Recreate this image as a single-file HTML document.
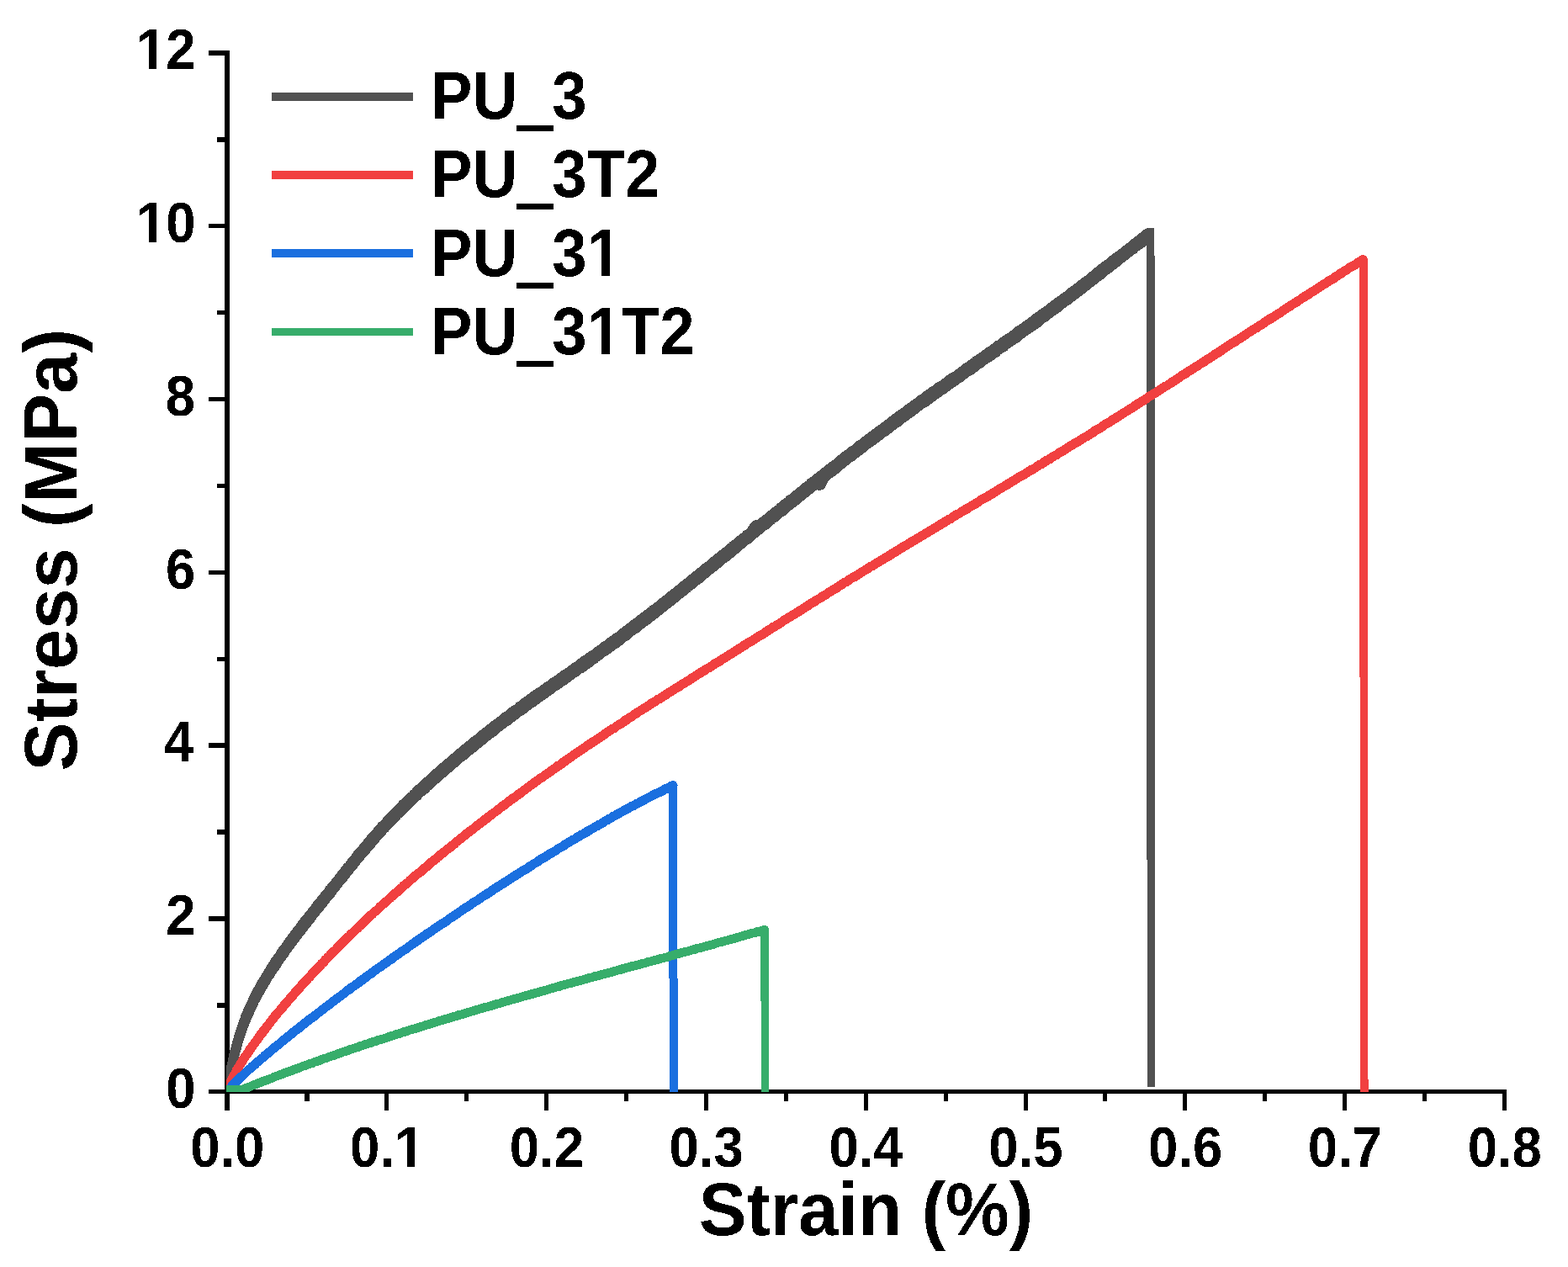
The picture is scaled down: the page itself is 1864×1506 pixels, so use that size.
<!DOCTYPE html>
<html lang="en"><head><meta charset="utf-8"><title>Stress-strain curves</title>
<style>html,body{margin:0;padding:0;background:#fff}body{width:1864px;height:1506px;overflow:hidden}svg{display:block}text{font-family:"Liberation Sans", sans-serif;font-weight:bold;fill:#000;font-kerning:none}</style>
</head><body>
<svg width="1864" height="1506" viewBox="0 0 1864 1506" role="img" aria-label="Stress-strain curves of PU_3, PU_3T2, PU_31 and PU_31T2">
<rect width="1864" height="1506" fill="#fff"/>
<g fill="#000" shape-rendering="crispEdges">
<rect x="267" y="60" width="6" height="1260"/>
<rect x="248" y="1295" width="1543" height="5"/>
<rect x="258" y="1192" width="10" height="6"/>
<rect x="248" y="1089" width="20" height="6"/>
<rect x="258" y="986" width="10" height="6"/>
<rect x="248" y="883" width="20" height="6"/>
<rect x="258" y="781" width="10" height="5"/>
<rect x="248" y="678" width="20" height="5"/>
<rect x="258" y="575" width="10" height="5"/>
<rect x="248" y="472" width="20" height="5"/>
<rect x="258" y="369" width="10" height="5"/>
<rect x="248" y="266" width="20" height="5"/>
<rect x="258" y="163" width="10" height="6"/>
<rect x="248" y="60" width="20" height="6"/>
<rect x="362" y="1299" width="6" height="10"/>
<rect x="457" y="1299" width="5" height="21"/>
<rect x="552" y="1299" width="5" height="10"/>
<rect x="647" y="1299" width="5" height="21"/>
<rect x="742" y="1299" width="5" height="10"/>
<rect x="837" y="1299" width="5" height="21"/>
<rect x="932" y="1299" width="5" height="10"/>
<rect x="1027" y="1299" width="5" height="21"/>
<rect x="1122" y="1299" width="5" height="10"/>
<rect x="1217" y="1299" width="5" height="21"/>
<rect x="1311" y="1299" width="5" height="10"/>
<rect x="1406" y="1299" width="5" height="21"/>
<rect x="1501" y="1299" width="5" height="10"/>
<rect x="1596" y="1299" width="5" height="21"/>
<rect x="1691" y="1299" width="5" height="10"/>
<rect x="1786" y="1299" width="5" height="21"/>
</g>
<defs><filter id="crisp" x="0" y="0" width="100%" height="100%" filterUnits="userSpaceOnUse" color-interpolation-filters="sRGB"><feComponentTransfer><feFuncR type="discrete" tableValues="0 1"/><feFuncG type="discrete" tableValues="0 1"/><feFuncB type="discrete" tableValues="0 1"/><feFuncA type="discrete" tableValues="0 1"/></feComponentTransfer></filter></defs>
<defs><clipPath id="plot"><rect x="269" y="0" width="1531" height="1298"/></clipPath></defs>
<g clip-path="url(#plot)" fill="none" stroke-linejoin="round" stroke-linecap="butt">
<path d="M270.5 1286.3L270.9 1283.9L271.3 1282.3L271.7 1280.6L272.1 1278.4L272.5 1276.5L272.9 1274.0L273.3 1272.5L273.7 1271.0L274.2 1269.0L274.6 1266.9L275.0 1264.3L275.5 1263.2L275.9 1261.2L276.4 1258.5L276.8 1257.1L277.3 1254.5L277.8 1252.6L278.2 1250.9L278.7 1248.8L279.2 1247.5L279.7 1245.6L280.2 1243.2L280.8 1241.2L281.3 1239.1L281.8 1237.1L282.4 1235.8L282.9 1233.8L283.5 1231.3L284.1 1229.8L284.7 1227.8L285.3 1226.3L285.9 1224.3L286.5 1222.3L287.1 1220.3L287.8 1218.8L288.4 1217.0L289.1 1214.5L289.8 1212.5L290.5 1211.2L291.2 1208.6L292.0 1207.0L292.7 1204.8L293.5 1203.2L294.3 1201.1L295.0 1199.5L295.8 1198.2L296.7 1196.5L297.5 1194.5L298.3 1192.5L299.2 1190.7L300.1 1188.7L300.9 1186.7L301.8 1185.1L302.7 1183.6L303.6 1181.2L304.6 1179.4L305.5 1178.3L306.4 1176.1L307.4 1174.7L308.3 1173.0L309.3 1171.5L310.3 1169.2L311.3 1167.4L312.3 1166.1L313.3 1164.3L314.3 1162.5L315.3 1160.9L316.4 1159.1L317.4 1157.7L318.5 1155.3L319.5 1154.0L320.6 1152.6L321.7 1150.3L322.8 1148.8L323.9 1146.9L325.0 1145.3L326.1 1143.3L327.2 1141.6L328.3 1140.6L329.4 1138.7L330.5 1137.2L331.7 1135.6L332.8 1133.7L333.9 1132.0L335.1 1130.1L336.2 1129.1L337.4 1127.5L338.6 1125.8L339.7 1124.3L340.9 1122.5L342.1 1120.9L343.3 1118.8L344.5 1117.7L345.6 1115.7L346.8 1114.2L348.0 1112.4L349.2 1111.1L350.4 1109.6L351.6 1107.9L352.9 1106.0L354.1 1104.3L355.3 1103.4L356.5 1101.2L357.7 1099.8L358.9 1097.9L360.2 1096.5L361.4 1094.7L362.6 1093.4L363.8 1092.1L365.1 1090.8L366.3 1088.9L367.5 1087.0L368.8 1085.8L370.0 1084.2L371.3 1082.8L372.5 1080.9L373.8 1079.7L375.0 1077.7L376.2 1076.0L377.5 1074.6L378.7 1073.5L380.0 1071.7L381.2 1069.9L382.5 1068.3L383.7 1066.9L385.0 1065.2L386.2 1063.7L387.5 1062.6L388.7 1061.0L390.0 1059.3L391.2 1057.0L392.5 1055.9L393.8 1054.1L395.0 1053.1L396.3 1051.0L397.5 1050.0L398.8 1047.8L400.0 1046.4L401.3 1045.4L402.5 1043.4L403.8 1042.2L405.0 1040.3L406.3 1038.4L407.6 1037.3L408.8 1035.5L410.1 1034.0L411.3 1032.0L412.6 1030.5L413.8 1029.7L415.1 1028.2L416.3 1026.6L417.6 1024.4L418.8 1022.6L420.1 1021.5L421.4 1020.1L422.6 1018.5L423.9 1016.3L425.1 1015.0L426.4 1013.9L427.7 1011.7L429.0 1010.9L430.2 1009.5L431.5 1007.2L432.8 1005.5L434.1 1004.9L435.3 1003.1L436.6 1001.3L437.9 999.8L439.2 998.7L440.5 996.6L441.8 994.8L443.1 993.8L444.4 992.0L445.8 990.9L447.1 989.6L448.4 987.5L449.7 985.9L451.1 984.2L452.4 983.5L453.7 981.3L455.1 980.7L456.4 978.9L457.8 977.7L459.2 976.1L460.5 974.0L461.9 972.6L463.3 971.9L464.7 969.8L466.1 968.9L467.5 966.8L468.9 965.5L470.3 964.4L471.7 962.6L473.1 961.7L474.6 960.4L476.0 958.4L477.4 957.0L478.8 955.3L480.3 954.3L481.7 952.6L483.1 951.7L484.6 950.4L486.0 948.9L487.5 947.5L488.9 946.2L490.4 945.1L491.8 943.3L493.3 942.3L494.7 940.4L496.2 938.8L497.7 937.5L499.1 936.7L500.6 934.8L502.1 934.0L503.6 932.8L505.0 931.1L506.5 929.3L508.0 928.4L509.5 926.8L511.0 926.0L512.4 924.0L513.9 922.7L515.4 921.6L516.9 920.3L518.4 918.6L519.9 917.5L521.4 916.4L522.9 914.9L524.4 913.2L525.9 912.2L527.4 910.9L529.0 909.6L530.5 907.9L532.0 906.8L533.5 906.2L535.0 904.8L536.5 903.6L538.1 902.1L539.6 900.5L541.1 899.7L542.7 897.8L544.2 896.8L545.7 895.5L547.3 894.0L548.8 892.6L550.3 891.4L551.9 890.4L553.4 888.8L555.0 887.6L556.5 886.3L558.1 885.0L559.6 884.2L561.2 882.7L562.7 880.9L564.3 880.4L565.9 878.9L567.4 877.9L569.0 876.4L570.6 874.9L572.1 874.2L573.7 872.3L575.3 871.2L576.8 870.1L578.4 869.3L580.0 867.3L581.6 866.3L583.2 865.2L584.7 864.1L586.3 862.3L587.9 861.8L589.5 860.4L591.1 859.1L592.7 857.7L594.3 856.5L595.9 855.8L597.5 854.7L599.1 852.7L600.7 851.5L602.3 850.8L603.9 849.7L605.5 848.5L607.1 846.8L608.7 845.5L610.3 844.2L611.9 843.3L613.5 842.3L615.1 841.4L616.8 839.4L618.4 838.3L620.0 837.7L621.6 836.5L623.2 834.8L624.9 833.6L626.5 832.3L628.1 831.8L629.7 830.2L631.4 829.0L633.0 828.3L634.6 826.6L636.3 825.9L637.9 824.2L639.5 823.1L641.2 822.5L642.8 821.5L644.4 820.0L646.1 818.8L647.7 817.9L649.4 816.1L651.0 815.2L652.6 814.7L654.3 813.6L655.9 811.5L657.6 810.3L659.2 809.9L660.8 808.5L662.5 807.6L664.1 806.4L665.8 805.0L667.4 804.1L669.1 802.9L670.7 801.2L672.3 800.5L674.0 799.7L675.6 798.5L677.3 797.2L678.9 796.0L680.6 795.1L682.2 793.4L683.8 792.3L685.5 791.4L687.1 790.5L688.8 788.8L690.4 787.5L692.0 786.5L693.7 785.5L695.3 784.0L697.0 783.4L698.6 782.5L700.2 780.8L701.9 780.2L703.5 778.5L705.1 777.5L706.8 776.8L708.4 775.3L710.0 774.0L711.7 773.0L713.3 771.6L714.9 770.7L716.5 769.0L718.2 767.7L719.8 767.0L721.4 765.8L723.0 764.5L724.6 763.0L726.3 762.7L727.9 760.7L729.5 760.3L731.1 758.5L732.7 757.3L734.3 756.7L736.0 755.6L737.6 754.1L739.2 753.2L740.8 751.2L742.4 750.7L744.0 749.2L745.6 747.7L747.2 746.8L748.8 745.1L750.4 744.6L752.0 743.2L753.6 741.5L755.2 740.4L756.8 739.2L758.4 738.2L760.0 736.7L761.5 735.6L763.1 734.6L764.7 733.0L766.3 732.4L767.9 730.9L769.5 729.6L771.1 728.5L772.7 726.9L774.2 726.4L775.8 724.4L777.4 723.6L779.0 722.8L780.6 720.7L782.1 720.0L783.7 719.1L785.3 717.9L786.9 716.0L788.4 715.0L790.0 714.1L791.6 712.5L793.2 711.6L794.7 710.1L796.3 708.2L797.9 707.3L799.5 706.6L801.0 704.9L802.6 703.7L804.2 702.3L805.7 700.9L807.3 700.1L808.9 698.6L810.4 697.9L812.0 695.8L813.6 695.4L815.1 693.3L816.7 692.8L818.3 691.2L819.8 690.2L821.4 688.7L822.9 687.1L824.5 686.7L826.1 685.1L827.6 683.4L829.2 682.5L830.8 680.9L832.3 679.8L833.9 678.8L835.4 677.5L837.0 675.8L838.6 674.6L840.1 673.6L841.7 672.4L843.2 671.5L844.8 669.9L846.3 668.9L847.9 667.2L849.5 665.8L851.0 664.6L852.6 663.1L854.1 662.2L855.7 661.2L857.2 660.1L858.8 658.3L860.4 657.5L861.9 656.2L863.5 654.9L865.0 653.9L866.6 652.3L868.1 650.9L869.7 649.7L871.3 647.9L872.8 646.7L874.4 645.9L875.9 644.5L877.5 643.0L879.0 642.0L880.6 641.0L882.1 639.6L883.7 638.2L885.3 637.3L886.8 635.4L888.4 634.9L889.9 633.5L891.5 631.9L893.0 630.4L894.6 628.0L896.2 625.7L897.7 623.6L899.3 623.5L900.8 623.3L902.4 623.1L903.9 621.7L905.5 620.2L907.1 619.2L908.6 618.0L910.2 616.6L911.7 615.6L913.3 614.8L914.9 612.8L916.4 611.7L918.0 610.9L919.5 609.0L921.1 607.9L922.7 606.9L924.2 605.8L925.8 604.7L927.3 602.8L928.9 602.3L930.5 600.5L932.0 598.9L933.6 597.7L935.1 596.7L936.7 595.8L938.3 593.8L939.8 592.7L941.4 592.1L943.0 590.8L944.5 589.0L946.1 587.6L947.7 586.9L949.2 585.8L950.8 583.8L952.4 583.0L953.9 581.4L955.5 580.6L957.1 578.9L958.6 577.7L960.2 576.8L961.8 576.0L963.3 573.8L964.9 572.6L966.5 571.5L968.0 570.9L969.6 569.1L971.2 567.8L972.8 566.8L974.3 565.9L975.9 564.1L977.5 563.1L979.1 561.8L980.6 560.6L982.2 559.3L983.8 558.5L985.4 556.6L986.9 555.7L988.5 554.1L990.1 553.6L991.7 551.9L993.3 551.3L994.8 549.7L996.4 548.0L998.0 547.5L999.6 545.6L1001.2 544.7L1002.8 543.6L1004.3 541.8L1005.9 540.6L1007.5 539.6L1009.1 538.3L1010.7 537.1L1012.3 535.8L1013.9 534.7L1015.4 534.1L1017.0 532.3L1018.6 531.1L1020.2 529.7L1021.8 528.4L1023.4 527.3L1025.0 526.7L1026.6 525.5L1028.2 523.5L1029.8 522.6L1031.4 521.5L1033.0 520.3L1034.6 518.7L1036.2 517.4L1037.8 516.9L1039.4 515.0L1041.0 514.1L1042.6 513.3L1044.2 512.0L1045.8 510.5L1047.4 509.7L1049.0 508.7L1050.6 507.0L1052.2 506.2L1053.8 504.6L1055.4 503.3L1057.0 502.7L1058.6 501.3L1060.3 499.5L1061.9 498.7L1063.5 497.3L1065.1 496.3L1066.7 495.3L1068.3 493.7L1069.9 492.8L1071.6 491.3L1073.2 490.3L1074.8 489.5L1076.4 488.2L1078.0 486.7L1079.6 485.4L1081.3 484.5L1082.9 483.2L1084.5 482.6L1086.1 480.7L1087.8 480.2L1089.4 478.3L1091.0 477.7L1092.7 476.6L1094.3 474.8L1095.9 473.9L1097.5 473.0L1099.2 471.5L1100.8 470.0L1102.4 469.5L1104.1 468.1L1105.7 466.6L1107.3 465.3L1109.0 464.6L1110.6 463.3L1112.2 462.6L1113.9 460.8L1115.5 459.5L1117.1 459.2L1118.8 457.6L1120.4 456.9L1122.1 455.4L1123.7 454.6L1125.3 453.5L1127.0 451.5L1128.6 450.5L1130.3 449.3L1131.9 448.9L1133.5 447.5L1135.2 446.6L1136.8 445.5L1138.5 444.2L1140.1 443.1L1141.7 442.0L1143.4 440.5L1145.0 439.6L1146.7 438.6L1148.3 436.9L1149.9 435.5L1151.6 434.8L1153.2 433.1L1154.9 432.2L1156.5 431.1L1158.2 430.4L1159.8 428.4L1161.4 427.6L1163.1 426.4L1164.7 425.6L1166.4 424.7L1168.0 423.1L1169.6 422.4L1171.3 420.8L1172.9 419.7L1174.6 418.4L1176.2 417.1L1177.8 416.6L1179.5 415.2L1181.1 413.7L1182.8 412.8L1184.4 411.6L1186.0 410.0L1187.7 409.5L1189.3 408.5L1190.9 407.1L1192.6 405.5L1194.2 404.6L1195.8 403.3L1197.5 402.1L1199.1 401.0L1200.7 400.5L1202.4 399.3L1204.0 398.0L1205.6 397.0L1207.3 395.0L1208.9 394.0L1210.5 392.6L1212.2 391.4L1213.8 390.9L1215.4 389.5L1217.1 388.5L1218.7 387.6L1220.3 385.9L1221.9 384.7L1223.6 384.1L1225.2 382.1L1226.8 381.8L1228.4 380.1L1230.0 378.6L1231.7 377.6L1233.3 376.3L1234.9 375.8L1236.5 373.9L1238.1 372.7L1239.8 372.1L1241.4 370.5L1243.0 369.4L1244.6 368.7L1246.2 367.1L1247.8 366.3L1249.4 364.6L1251.1 363.3L1252.7 362.0L1254.3 361.6L1255.9 359.7L1257.5 358.4L1259.1 357.3L1260.7 356.5L1262.3 355.4L1263.9 354.0L1265.5 353.0L1267.1 351.6L1268.7 350.7L1270.3 349.3L1271.9 347.7L1273.5 346.6L1275.1 346.1L1276.7 344.3L1278.3 343.3L1279.9 341.6L1281.5 340.9L1283.0 339.7L1284.6 337.9L1286.2 337.5L1287.8 335.7L1289.4 334.5L1291.0 333.6L1292.6 332.6L1294.1 331.3L1295.7 329.8L1297.3 328.0L1298.9 327.2L1300.5 326.1L1302.0 325.1L1303.6 323.2L1305.2 322.3L1306.8 321.2L1308.3 320.0L1309.9 318.1L1311.5 317.7L1313.1 315.7L1314.7 315.2L1316.2 314.0L1317.8 312.5L1319.4 311.2L1321.0 309.8L1322.5 308.6L1324.1 307.9L1325.7 306.4L1327.3 305.0L1328.9 303.6L1330.4 303.0L1332.0 301.7L1333.6 300.5L1335.2 299.3L1336.8 297.5L1338.4 296.7L1339.9 295.4L1341.5 294.4L1343.1 293.0L1344.7 291.8L1346.3 290.6L1347.9 289.1L1349.5 288.0L1351.1 286.2L1352.7 285.3L1354.3 284.5L1355.9 282.6L1357.5 281.6L1359.1 280.7L1360.7 279.4L1362.3 277.8L1363.9 276.7L1365.5 275.8" stroke="#515151" stroke-width="7.800000000000001" stroke-linecap="round"/>
<path d="M270.5 1286.3L270.9 1283.9L271.3 1282.3L271.7 1280.6L272.1 1278.4L272.5 1276.5L272.9 1274.0L273.3 1272.5L273.7 1271.0L274.2 1269.0L274.6 1266.9L275.0 1264.3L275.5 1263.2L275.9 1261.2L276.4 1258.5L276.8 1257.1L277.3 1254.5L277.8 1252.6L278.2 1250.9L278.7 1248.8L279.2 1247.5L279.7 1245.6L280.2 1243.2L280.8 1241.2L281.3 1239.1L281.8 1237.1L282.4 1235.8L282.9 1233.8L283.5 1231.3L284.1 1229.8L284.7 1227.8L285.3 1226.3L285.9 1224.3L286.5 1222.3L287.1 1220.3L287.8 1218.8L288.4 1217.0L289.1 1214.5L289.8 1212.5L290.5 1211.2L291.2 1208.6L292.0 1207.0L292.7 1204.8L293.5 1203.2L294.3 1201.1L295.0 1199.5L295.8 1198.2L296.7 1196.5L297.5 1194.5L298.3 1192.5L299.2 1190.7L300.1 1188.7L300.9 1186.7L301.8 1185.1L302.7 1183.6L303.6 1181.2L304.6 1179.4L305.5 1178.3L306.4 1176.1L307.4 1174.7L308.3 1173.0L309.3 1171.5L310.3 1169.2L311.3 1167.4L312.3 1166.1L313.3 1164.3L314.3 1162.5L315.3 1160.9L316.4 1159.1L317.4 1157.7L318.5 1155.3L319.5 1154.0L320.6 1152.6L321.7 1150.3L322.8 1148.8L323.9 1146.9L325.0 1145.3L326.1 1143.3L327.2 1141.6L328.3 1140.6L329.4 1138.7L330.5 1137.2L331.7 1135.6L332.8 1133.7L333.9 1132.0L335.1 1130.1L336.2 1129.1L337.4 1127.5L338.6 1125.8L339.7 1124.3L340.9 1122.5L342.1 1120.9L343.3 1118.8L344.5 1117.7L345.6 1115.7L346.8 1114.2L348.0 1112.4L349.2 1111.1L350.4 1109.6L351.6 1107.9L352.9 1106.0L354.1 1104.3L355.3 1103.4L356.5 1101.2L357.7 1099.8L358.9 1097.9L360.2 1096.5L361.4 1094.7L362.6 1093.4L363.8 1092.1L365.1 1090.8L366.3 1088.9L367.5 1087.0L368.8 1085.8L370.0 1084.2L371.3 1082.8L372.5 1080.9L373.8 1079.7L375.0 1077.7L376.2 1076.0L377.5 1074.6L378.7 1073.5L380.0 1071.7L381.2 1069.9L382.5 1068.3L383.7 1066.9L385.0 1065.2L386.2 1063.7L387.5 1062.6L388.7 1061.0L390.0 1059.3L391.2 1057.0L392.5 1055.9L393.8 1054.1L395.0 1053.1L396.3 1051.0L397.5 1050.0L398.8 1047.8L400.0 1046.4L401.3 1045.4L402.5 1043.4L403.8 1042.2L405.0 1040.3L406.3 1038.4L407.6 1037.3L408.8 1035.5L410.1 1034.0L411.3 1032.0L412.6 1030.5L413.8 1029.7L415.1 1028.2L416.3 1026.6L417.6 1024.4L418.8 1022.6L420.1 1021.5L421.4 1020.1L422.6 1018.5L423.9 1016.3L425.1 1015.0L426.4 1013.9L427.7 1011.7L429.0 1010.9L430.2 1009.5L431.5 1007.2L432.8 1005.5L434.1 1004.9L435.3 1003.1L436.6 1001.3L437.9 999.8L439.2 998.7L440.5 996.6L441.8 994.8L443.1 993.8L444.4 992.0L445.8 990.9L447.1 989.6L448.4 987.5L449.7 985.9L451.1 984.2L452.4 983.5L453.7 981.3L455.1 980.7L456.4 978.9L457.8 977.7L459.2 976.1L460.5 974.0L461.9 972.6L463.3 971.9L464.7 969.8L466.1 968.9L467.5 966.8L468.9 965.5L470.3 964.4L471.7 962.6L473.1 961.7L474.6 960.4L476.0 958.4L477.4 957.0L478.8 955.3L480.3 954.3L481.7 952.6L483.1 951.7L484.6 950.4L486.0 948.9L487.5 947.5L488.9 946.2L490.4 945.1L491.8 943.3L493.3 942.3L494.7 940.4L496.2 938.8L497.7 937.5L499.1 936.7L500.6 934.8L502.1 934.0L503.6 932.8L505.0 931.1L506.5 929.3L508.0 928.4L509.5 926.8L511.0 926.0L512.4 924.0L513.9 922.7L515.4 921.6L516.9 920.3L518.4 918.6L519.9 917.5L521.4 916.4L522.9 914.9L524.4 913.2L525.9 912.2L527.4 910.9L529.0 909.6L530.5 907.9L532.0 906.8L533.5 906.2L535.0 904.8L536.5 903.6L538.1 902.1L539.6 900.5L541.1 899.7L542.7 897.8L544.2 896.8L545.7 895.5L547.3 894.0L548.8 892.6L550.3 891.4L551.9 890.4L553.4 888.8L555.0 887.6L556.5 886.3L558.1 885.0L559.6 884.2L561.2 882.7L562.7 880.9L564.3 880.4L565.9 878.9L567.4 877.9L569.0 876.4L570.6 874.9L572.1 874.2L573.7 872.3L575.3 871.2L576.8 870.1L578.4 869.3L580.0 867.3L581.6 866.3L583.2 865.2L584.7 864.1L586.3 862.3L587.9 861.8L589.5 860.4L591.1 859.1L592.7 857.7L594.3 856.5L595.9 855.8L597.5 854.7L599.1 852.7L600.7 851.5L602.3 850.8L603.9 849.7L605.5 848.5L607.1 846.8L608.7 845.5L610.3 844.2L611.9 843.3L613.5 842.3L615.1 841.4L616.8 839.4L618.4 838.3L620.0 837.7L621.6 836.5L623.2 834.8L624.9 833.6L626.5 832.3L628.1 831.8L629.7 830.2L631.4 829.0L633.0 828.3L634.6 826.6L636.3 825.9L637.9 824.2L639.5 823.1L641.2 822.5L642.8 821.5L644.4 820.0L646.1 818.8L647.7 817.9L649.4 816.1L651.0 815.2L652.6 814.7L654.3 813.6L655.9 811.5L657.6 810.3L659.2 809.9L660.8 808.5L662.5 807.6L664.1 806.4L665.8 805.0L667.4 804.1L669.1 802.9L670.7 801.2L672.3 800.5L674.0 799.7L675.6 798.5L677.3 797.2L678.9 796.0L680.6 795.1L682.2 793.4L683.8 792.3L685.5 791.4L687.1 790.5L688.8 788.8L690.4 787.5L692.0 786.5L693.7 785.5L695.3 784.0L697.0 783.4L698.6 782.5L700.2 780.8L701.9 780.2L703.5 778.5L705.1 777.5L706.8 776.8L708.4 775.3L710.0 774.0L711.7 773.0L713.3 771.6L714.9 770.7L716.5 769.0L718.2 767.7L719.8 767.0L721.4 765.8L723.0 764.5L724.6 763.0L726.3 762.7L727.9 760.7L729.5 760.3L731.1 758.5L732.7 757.3L734.3 756.7L736.0 755.6L737.6 754.1L739.2 753.2L740.8 751.2L742.4 750.7L744.0 749.2L745.6 747.7L747.2 746.8L748.8 745.1L750.4 744.6L752.0 743.2L753.6 741.5L755.2 740.4L756.8 739.2L758.4 738.2L760.0 736.7L761.5 735.6L763.1 734.6L764.7 733.0L766.3 732.4L767.9 730.9L769.5 729.6L771.1 728.5L772.7 726.9L774.2 726.4L775.8 724.4L777.4 723.6L779.0 722.8L780.6 720.7L782.1 720.0L783.7 719.1L785.3 717.9L786.9 716.0L788.4 715.0L790.0 714.1L791.6 712.5L793.2 711.6L794.7 710.1L796.3 708.2L797.9 707.3L799.5 706.6L801.0 704.9L802.6 703.7L804.2 702.3L805.7 700.9L807.3 700.1L808.9 698.6L810.4 697.9L812.0 695.8L813.6 695.4L815.1 693.3L816.7 692.8L818.3 691.2L819.8 690.2L821.4 688.7L822.9 687.1L824.5 686.7L826.1 685.1L827.6 683.4L829.2 682.5L830.8 680.9L832.3 679.8L833.9 678.8L835.4 677.5L837.0 675.8L838.6 674.6L840.1 673.6L841.7 672.4L843.2 671.5L844.8 669.9L846.3 668.9L847.9 667.2L849.5 665.8L851.0 664.6L852.6 663.1L854.1 662.2L855.7 661.2L857.2 660.1L858.8 658.3L860.4 657.5L861.9 656.2L863.5 654.9L865.0 653.9L866.6 652.3L868.1 650.9L869.7 649.7L871.3 647.9L872.8 646.7L874.4 645.9L875.9 644.5L877.5 643.0L879.0 642.0L880.6 641.0L882.1 639.6L883.7 638.2L885.3 637.3L886.8 635.4L888.4 634.9L889.9 633.5L891.5 631.9L893.0 630.4L894.6 628.0L896.2 625.7L897.7 623.6L899.3 623.5L900.8 623.3L902.4 623.1L903.9 621.7L905.5 620.2L907.1 619.2L908.6 618.0L910.2 616.6L911.7 615.6L913.3 614.8L914.9 612.8L916.4 611.7L918.0 610.9L919.5 609.0L921.1 607.9L922.7 606.9L924.2 605.8L925.8 604.7L927.3 602.8L928.9 602.3L930.5 600.5L932.0 598.9L933.6 597.7L935.1 596.7L936.7 595.8L938.3 593.8L939.8 592.7L941.4 592.1L943.0 590.8L944.5 589.0L946.1 587.6L947.7 586.9L949.2 585.8L950.8 583.8L952.4 583.0L953.9 581.4L955.5 580.6L957.1 578.9L958.6 577.7L960.2 576.8L961.8 576.0L963.3 573.8L964.9 572.6L966.5 571.5L968.0 570.9L969.6 569.1L971.2 567.8L972.8 566.8L974.3 565.9L975.9 564.1L977.5 563.1L979.1 561.8L980.6 560.6L982.2 559.3L983.8 558.5L985.4 556.6L986.9 555.7L988.5 554.1L990.1 553.6L991.7 551.9L993.3 551.3L994.8 549.7L996.4 548.0L998.0 547.5L999.6 545.6L1001.2 544.7L1002.8 543.6L1004.3 541.8L1005.9 540.6L1007.5 539.6L1009.1 538.3L1010.7 537.1L1012.3 535.8L1013.9 534.7L1015.4 534.1L1017.0 532.3L1018.6 531.1L1020.2 529.7L1021.8 528.4L1023.4 527.3L1025.0 526.7L1026.6 525.5L1028.2 523.5L1029.8 522.6L1031.4 521.5L1033.0 520.3L1034.6 518.7L1036.2 517.4L1037.8 516.9L1039.4 515.0L1041.0 514.1L1042.6 513.3L1044.2 512.0L1045.8 510.5L1047.4 509.7L1049.0 508.7L1050.6 507.0L1052.2 506.2L1053.8 504.6L1055.4 503.3L1057.0 502.7L1058.6 501.3L1060.3 499.5L1061.9 498.7L1063.5 497.3L1065.1 496.3L1066.7 495.3L1068.3 493.7L1069.9 492.8L1071.6 491.3L1073.2 490.3L1074.8 489.5L1076.4 488.2L1078.0 486.7L1079.6 485.4L1081.3 484.5L1082.9 483.2L1084.5 482.6L1086.1 480.7L1087.8 480.2L1089.4 478.3L1091.0 477.7L1092.7 476.6L1094.3 474.8L1095.9 473.9L1097.5 473.0L1099.2 471.5L1100.8 470.0L1102.4 469.5L1104.1 468.1L1105.7 466.6L1107.3 465.3L1109.0 464.6L1110.6 463.3L1112.2 462.6L1113.9 460.8L1115.5 459.5L1117.1 459.2L1118.8 457.6L1120.4 456.9L1122.1 455.4L1123.7 454.6L1125.3 453.5L1127.0 451.5L1128.6 450.5L1130.3 449.3L1131.9 448.9L1133.5 447.5L1135.2 446.6L1136.8 445.5L1138.5 444.2L1140.1 443.1L1141.7 442.0L1143.4 440.5L1145.0 439.6L1146.7 438.6L1148.3 436.9L1149.9 435.5L1151.6 434.8L1153.2 433.1L1154.9 432.2L1156.5 431.1L1158.2 430.4L1159.8 428.4L1161.4 427.6L1163.1 426.4L1164.7 425.6L1166.4 424.7L1168.0 423.1L1169.6 422.4L1171.3 420.8L1172.9 419.7L1174.6 418.4L1176.2 417.1L1177.8 416.6L1179.5 415.2L1181.1 413.7L1182.8 412.8L1184.4 411.6L1186.0 410.0L1187.7 409.5L1189.3 408.5L1190.9 407.1L1192.6 405.5L1194.2 404.6L1195.8 403.3L1197.5 402.1L1199.1 401.0L1200.7 400.5L1202.4 399.3L1204.0 398.0L1205.6 397.0L1207.3 395.0L1208.9 394.0L1210.5 392.6L1212.2 391.4L1213.8 390.9L1215.4 389.5L1217.1 388.5L1218.7 387.6L1220.3 385.9L1221.9 384.7L1223.6 384.1L1225.2 382.1L1226.8 381.8L1228.4 380.1L1230.0 378.6L1231.7 377.6L1233.3 376.3L1234.9 375.8L1236.5 373.9L1238.1 372.7L1239.8 372.1L1241.4 370.5L1243.0 369.4L1244.6 368.7L1246.2 367.1L1247.8 366.3L1249.4 364.6L1251.1 363.3L1252.7 362.0L1254.3 361.6L1255.9 359.7L1257.5 358.4L1259.1 357.3L1260.7 356.5L1262.3 355.4L1263.9 354.0L1265.5 353.0L1267.1 351.6L1268.7 350.7L1270.3 349.3L1271.9 347.7L1273.5 346.6L1275.1 346.1L1276.7 344.3L1278.3 343.3L1279.9 341.6L1281.5 340.9L1283.0 339.7L1284.6 337.9L1286.2 337.5L1287.8 335.7L1289.4 334.5L1291.0 333.6L1292.6 332.6L1294.1 331.3L1295.7 329.8L1297.3 328.0L1298.9 327.2L1300.5 326.1L1302.0 325.1L1303.6 323.2L1305.2 322.3L1306.8 321.2L1308.3 320.0L1309.9 318.1L1311.5 317.7L1313.1 315.7L1314.7 315.2L1316.2 314.0L1317.8 312.5L1319.4 311.2L1321.0 309.8L1322.5 308.6L1324.1 307.9L1325.7 306.4L1327.3 305.0L1328.9 303.6L1330.4 303.0L1332.0 301.7L1333.6 300.5L1335.2 299.3L1336.8 297.5L1338.4 296.7L1339.9 295.4L1341.5 294.4L1343.1 293.0L1344.7 291.8L1346.3 290.6L1347.9 289.1L1349.5 288.0L1351.1 286.2L1352.7 285.3L1354.3 284.5L1355.9 282.6L1357.5 281.6L1359.1 280.7L1360.7 279.4L1362.3 277.8L1363.9 276.7L1365.5 275.8" stroke="#515151" stroke-width="10.3" stroke-linecap="round" shape-rendering="crispEdges"/>
<path d="M1367.6 271.3L1367.6 300.0L1368.0 306.0L1368.0 1020.0L1368.6 1026.0L1368.6 1291.8" stroke="#515151" stroke-width="9.3" shape-rendering="crispEdges"/>
<path d="M270.5 1293.7L270.9 1291.5L271.3 1290.0L271.7 1287.3L272.1 1285.6L272.5 1283.4L272.9 1281.7L273.3 1280.1L273.7 1277.8L274.2 1276.1L274.6 1273.7L275.0 1272.5L275.5 1269.8L275.9 1267.9L276.4 1266.3L276.8 1264.7L277.3 1262.6L277.8 1260.9L278.2 1258.7L278.7 1256.4L279.2 1254.5L279.7 1252.9L280.2 1250.5L280.8 1249.1L281.3 1247.3L281.8 1245.2L282.4 1243.0L282.9 1240.7L283.5 1238.9L284.1 1237.0L284.7 1235.1L285.3 1233.4L285.9 1231.5L286.5 1229.3L287.1 1228.0L287.8 1226.0L288.4 1224.3L289.1 1221.8L289.8 1220.3L290.5 1218.4L291.2 1216.3L292.0 1214.4L292.7 1213.0L293.5 1210.9L294.3 1209.4L295.0 1207.1L295.8 1205.6L296.7 1203.8L297.5 1201.9L298.3 1200.2L299.2 1198.2L300.1 1196.2L300.9 1194.2L301.8 1192.9L302.7 1190.5L303.6 1188.9L304.6 1187.0L305.5 1185.6L306.4 1184.1L307.4 1181.8L308.3 1180.5L309.3 1178.7L310.3 1176.9L311.3 1174.7L312.3 1173.5L313.3 1171.5L314.3 1170.0L315.3 1168.0L316.4 1166.7L317.4 1164.8L318.5 1162.6L319.5 1160.9L320.6 1159.9L321.7 1157.7L322.8 1156.0L323.9 1154.0L325.0 1152.9L326.1 1151.4L327.2 1149.8L328.3 1147.5L329.4 1146.5L330.5 1144.1L331.7 1142.7L332.8 1141.0L333.9 1139.6L335.1 1137.9L336.2 1136.3L337.4 1134.6L338.6 1133.4L339.7 1131.1L340.9 1129.4L342.1 1128.4L343.3 1126.3L344.5 1125.0L345.6 1123.7L346.8 1121.2L348.0 1120.3L349.2 1118.0L350.4 1116.8L351.6 1115.2L352.9 1113.8L354.1 1112.3L355.3 1110.0L356.5 1108.4L357.7 1107.4L358.9 1105.9L360.2 1103.7L361.4 1102.6L362.6 1100.6L363.8 1099.3L365.1 1098.2L366.3 1096.5L367.5 1094.8L368.8 1093.0L370.0 1091.9L371.3 1090.1L372.5 1087.8L373.8 1086.9L375.0 1085.2L376.2 1083.6L377.5 1082.0L378.7 1080.3L380.0 1078.7L381.2 1077.6L382.5 1076.0L383.7 1073.8L385.0 1072.9L386.2 1071.3L387.5 1069.7L388.7 1067.7L390.0 1066.2L391.2 1064.6L392.5 1063.6L393.8 1062.1L395.0 1060.2L396.3 1058.2L397.5 1056.6L398.8 1055.3L400.0 1053.5L401.3 1052.3L402.5 1050.5L403.8 1048.8L405.0 1047.3L406.3 1045.9L407.6 1044.7L408.8 1042.7L410.1 1041.4L411.3 1039.6L412.6 1037.8L413.8 1036.3L415.1 1034.9L416.3 1033.3L417.6 1031.5L418.8 1030.7L420.1 1028.9L421.4 1027.1L422.6 1026.1L423.9 1024.0L425.1 1022.3L426.4 1020.9L427.7 1019.7L429.0 1017.8L430.2 1016.2L431.5 1015.3L432.8 1013.4L434.1 1012.1L435.3 1010.7L436.6 1008.5L437.9 1007.2L439.2 1005.3L440.5 1004.6L441.8 1002.9L443.1 1001.3L444.4 999.3L445.8 998.6L447.1 996.1L448.4 995.0L449.7 994.0L451.1 991.9L452.4 990.9L453.7 989.6L455.1 987.8L456.4 985.9L457.8 985.1L459.2 983.1L460.5 982.2L461.9 979.9L463.3 979.3L464.7 977.7L466.1 975.5L467.5 974.7L468.9 972.8L470.3 971.7L471.7 970.3L473.1 968.4L474.6 967.7L476.0 966.5L477.4 964.7L478.8 963.1L480.3 962.0L481.7 960.3L483.1 959.1L484.6 957.6L486.0 955.9L487.5 955.2L488.9 953.3L490.4 951.7L491.8 950.2L493.3 949.3L494.7 947.6L496.2 946.8L497.7 944.8L499.1 943.3L500.6 942.1L502.1 941.4L503.6 940.0L505.0 938.8L506.5 937.4L508.0 935.4L509.5 934.4L511.0 933.1L512.4 931.5L513.9 930.2L515.4 928.8L516.9 927.3L518.4 926.6L519.9 925.2L521.4 923.2L522.9 922.1L524.4 920.8L525.9 920.0L527.4 918.4L529.0 917.0L530.5 915.5L532.0 914.6L533.5 913.5L535.0 912.3L536.5 910.1L538.1 909.3L539.6 907.5L541.1 907.0L542.7 905.5L544.2 904.0L545.7 902.6L547.3 901.1L548.8 900.6L550.3 899.3L551.9 898.1L553.4 896.8L555.0 894.6L556.5 894.2L558.1 892.1L559.6 891.8L561.2 890.3L562.7 889.2L564.3 887.8L565.9 886.7L567.4 885.3L569.0 884.2L570.6 882.0L572.1 881.4L573.7 880.4L575.3 879.2L576.8 877.1L578.4 876.3L580.0 875.1L581.6 873.6L583.2 872.5L584.7 871.7L586.3 870.6L587.9 869.1L589.5 868.1L591.1 866.1L592.7 865.2L594.3 863.6L595.9 862.5L597.5 861.7L599.1 860.6L600.7 859.0L602.3 858.1L603.9 857.2L605.5 855.9L607.1 854.5L608.7 853.4L610.3 851.8L611.9 850.9L613.5 849.8L615.1 848.0L616.8 846.8L618.4 845.9L620.0 845.2L621.6 843.7L623.2 842.9L624.9 841.2L626.5 840.0L628.1 839.4L629.7 837.7L631.4 836.7L633.0 835.8L634.6 834.2L636.3 832.7L637.9 832.1L639.5 830.7L641.2 829.7L642.8 828.4L644.4 827.6L646.1 826.3L647.7 825.4L649.4 823.8L651.0 822.6L652.6 821.7L654.3 820.8L655.9 819.8L657.6 818.0L659.2 816.6L660.8 815.8L662.5 815.0L664.1 813.7L665.8 812.7L667.4 811.3L669.1 810.0L670.7 809.2L672.3 808.1L674.0 806.9L675.6 805.1L677.3 804.3L678.9 803.3L680.6 802.0L682.2 800.7L683.8 800.0L685.5 798.2L687.1 797.5L688.8 795.9L690.4 795.1L692.0 794.6L693.7 793.4L695.3 791.7L697.0 790.3L698.6 789.9L700.2 788.8L701.9 787.0L703.5 785.6L705.1 784.5L706.8 784.1L708.4 782.1L710.0 781.3L711.7 780.0L713.3 778.7L714.9 777.4L716.5 776.2L718.2 775.2L719.8 774.4L721.4 773.0L723.0 772.2L724.6 770.8L726.3 769.8L727.9 768.1L729.5 767.0L731.1 766.5L732.7 765.3L734.3 763.8L736.0 763.0L737.6 761.7L739.2 760.5L740.8 758.9L742.4 757.3L744.0 756.6L745.6 755.8L747.2 754.0L748.8 752.9L750.4 751.3L752.0 750.3L753.6 748.9L755.2 748.5L756.8 747.3L758.4 746.0L760.0 744.6L761.5 743.2L763.1 741.9L764.7 740.6L766.3 739.8L767.9 737.8L769.5 737.5L771.1 735.7L772.7 734.4L774.2 733.7L775.8 732.1L777.4 731.4L779.0 729.7L780.6 728.9L782.1 727.3L783.7 726.5L785.3 724.5L786.9 723.3L788.4 722.8L790.0 721.4L791.6 719.5L793.2 718.8L794.7 717.3L796.3 715.7L797.9 715.1L799.5 714.1L801.0 712.7L802.6 711.4L804.2 709.8L805.7 708.2L807.3 707.1L808.9 706.4L810.4 704.9L812.0 704.0L813.6 702.9L815.1 701.5L816.7 700.1L818.3 698.3L819.8 697.6L821.4 696.1L822.9 695.1L824.5 693.6L826.1 692.4L827.6 691.2L829.2 689.6L830.8 689.0L832.3 687.7L833.9 686.1L835.4 684.9L837.0 683.7L838.6 682.5L840.1 680.9L841.7 679.4L843.2 678.1L844.8 677.4L846.3 675.9L847.9 674.9L849.5 673.8L851.0 672.4L852.6 670.7L854.1 670.1L855.7 668.8L857.2 666.9L858.8 665.7L860.4 664.4L861.9 663.4L863.5 662.6L865.0 661.0L866.6 659.4L868.1 658.7L869.7 657.4L871.3 655.7L872.8 654.4L874.4 653.4L875.9 652.4L877.5 651.0L879.0 649.1L880.6 647.8L882.1 647.3L883.7 645.5L885.3 644.1L886.8 642.9L888.4 642.2L889.9 641.2L891.5 639.8L893.0 637.7L894.6 637.1L896.2 635.5L897.7 634.3L899.3 633.1L900.8 631.7L902.4 630.4L903.9 629.5L905.5 627.9L907.1 626.6L908.6 625.3L910.2 624.8L911.7 623.0L913.3 621.7L914.9 620.4L916.4 619.4L918.0 617.7L919.5 616.3L921.1 615.8L922.7 614.6L924.2 612.7L925.8 611.9L927.3 610.2L928.9 609.1L930.5 608.4L932.0 606.9L933.6 605.8L935.1 603.9L936.7 603.0L938.3 601.4L939.8 600.8L941.4 598.7L943.0 598.3L944.5 596.9L946.1 595.8L947.7 594.5L949.2 592.6L950.8 591.8L952.4 590.7L953.9 589.6L955.5 588.1L957.1 586.5L958.6 585.7L960.2 583.7L961.8 583.0L963.3 581.8L964.9 580.2L966.5 579.1L968.0 578.3L969.6 576.8L971.2 577.2L972.8 577.5L974.3 577.8L975.9 577.3L977.5 574.5L979.1 571.7L980.6 568.9L982.2 566.8L983.8 565.3L985.4 564.2L986.9 563.5L988.5 562.0L990.1 561.0L991.7 559.3L993.3 558.6L994.8 557.0L996.4 555.5L998.0 554.7L999.6 553.0L1001.2 552.1L1002.8 550.8L1004.3 549.1L1005.9 548.6L1007.5 546.8L1009.1 545.4L1010.7 544.4L1012.3 543.5L1013.9 542.2L1015.4 541.1L1017.0 539.4L1018.6 539.0L1020.2 537.5L1021.8 536.3L1023.4 534.5L1025.0 533.2L1026.6 533.0L1028.2 531.0L1029.8 529.8L1031.4 528.6L1033.0 527.4L1034.6 526.6L1036.2 525.4L1037.8 524.5L1039.4 522.4L1041.0 521.9L1042.6 520.3L1044.2 519.0L1045.8 518.4L1047.4 516.7L1049.0 515.2L1050.6 514.2L1052.2 513.6L1053.8 512.4L1055.4 511.0L1057.0 510.1L1058.6 508.2L1060.3 507.4L1061.9 506.5L1063.5 504.6L1065.1 503.3L1066.7 502.9L1068.3 501.8L1069.9 499.8L1071.6 498.9L1073.2 497.8L1074.8 496.7L1076.4 495.6L1078.0 494.2L1079.6 492.6L1081.3 492.3L1082.9 490.8L1084.5 489.8L1086.1 488.1L1087.8 487.2L1089.4 486.4L1091.0 484.4L1092.7 483.3L1094.3 482.2L1095.9 480.8L1097.5 479.7L1099.2 479.2L1100.8 478.3L1102.4 476.9L1104.1 475.9L1105.7 473.9L1107.3 473.4L1109.0 472.3L1110.6 470.5L1112.2 469.6L1113.9 468.4L1115.5 467.6L1117.1 465.9L1118.8 464.9L1120.4 463.9L1122.1 463.3L1123.7 461.5L1125.3 460.2L1127.0 459.6L1128.6 458.0L1130.3 457.0L1131.9 455.9L1133.5 454.8L1135.2 453.6L1136.8 452.1L1138.5 450.9L1140.1 449.9L1141.7 449.4L1143.4 448.0L1145.0 446.5L1146.7 445.2L1148.3 443.9L1149.9 442.8L1151.6 442.2L1153.2 441.0L1154.9 440.2L1156.5 438.6L1158.2 437.8L1159.8 436.4L1161.4 434.7L1163.1 433.6L1164.7 432.6L1166.4 432.1L1168.0 430.6L1169.6 429.0L1171.3 428.0L1172.9 426.8L1174.6 426.0L1176.2 425.2L1177.8 423.5L1179.5 422.8L1181.1 421.2L1182.8 420.4L1184.4 419.5L1186.0 417.7L1187.7 416.3L1189.3 415.2L1190.9 414.0L1192.6 413.4L1194.2 412.6L1195.8 410.7L1197.5 409.3L1199.1 408.5L1200.7 407.4L1202.4 405.9L1204.0 405.2L1205.6 403.5L1207.3 403.3L1208.9 402.1L1210.5 400.3L1212.2 398.9L1213.8 398.0L1215.4 397.0L1217.1 395.5L1218.7 394.2L1220.3 393.2L1221.9 392.3L1223.6 391.2L1225.2 389.9L1226.8 388.5L1228.4 388.1L1230.0 386.6L1231.7 385.7L1233.3 384.6L1234.9 382.8L1236.5 382.1L1238.1 380.3L1239.8 378.9L1241.4 377.8L1243.0 377.1L1244.6 375.8L1246.2 374.3L1247.8 373.4L1249.4 372.3L1251.1 370.7L1252.7 369.5L1254.3 368.8L1255.9 367.0L1257.5 366.6L1259.1 364.8L1260.7 363.6L1262.3 362.2L1263.9 361.2L1265.5 359.8L1267.1 358.8L1268.7 357.7L1270.3 357.1L1271.9 355.3L1273.5 353.7L1275.1 353.5L1276.7 351.8L1278.3 350.6L1279.9 349.3L1281.5 348.2L1283.0 347.1L1284.6 345.8L1286.2 344.9L1287.8 343.2L1289.4 341.6L1291.0 340.6L1292.6 340.0L1294.1 338.2L1295.7 336.7L1297.3 336.3L1298.9 334.7L1300.5 333.3L1302.0 331.7L1303.6 330.8L1305.2 329.8L1306.8 328.8L1308.3 327.6L1309.9 326.3L1311.5 324.7L1313.1 323.6L1314.7 321.8L1316.2 320.9L1317.8 319.7L1319.4 318.8L1321.0 317.3L1322.5 316.1L1324.1 314.9L1325.7 313.4L1327.3 312.6L1328.9 311.0L1330.4 310.4L1332.0 308.4L1333.6 307.4L1335.2 306.0L1336.8 305.0L1338.4 303.5L1339.9 302.3L1341.5 301.0L1343.1 300.2L1344.7 298.8L1346.3 297.2L1347.9 297.0L1349.5 295.0L1351.1 293.7L1352.7 292.6L1354.3 291.3L1355.9 290.6L1357.5 289.4L1359.1 287.7L1360.7 286.8L1362.3 285.2L1363.9 284.4L1365.5 283.2" stroke="#515151" stroke-width="7.800000000000001" stroke-linecap="round"/>
<path d="M270.5 1293.7L270.9 1291.5L271.3 1290.0L271.7 1287.3L272.1 1285.6L272.5 1283.4L272.9 1281.7L273.3 1280.1L273.7 1277.8L274.2 1276.1L274.6 1273.7L275.0 1272.5L275.5 1269.8L275.9 1267.9L276.4 1266.3L276.8 1264.7L277.3 1262.6L277.8 1260.9L278.2 1258.7L278.7 1256.4L279.2 1254.5L279.7 1252.9L280.2 1250.5L280.8 1249.1L281.3 1247.3L281.8 1245.2L282.4 1243.0L282.9 1240.7L283.5 1238.9L284.1 1237.0L284.7 1235.1L285.3 1233.4L285.9 1231.5L286.5 1229.3L287.1 1228.0L287.8 1226.0L288.4 1224.3L289.1 1221.8L289.8 1220.3L290.5 1218.4L291.2 1216.3L292.0 1214.4L292.7 1213.0L293.5 1210.9L294.3 1209.4L295.0 1207.1L295.8 1205.6L296.7 1203.8L297.5 1201.9L298.3 1200.2L299.2 1198.2L300.1 1196.2L300.9 1194.2L301.8 1192.9L302.7 1190.5L303.6 1188.9L304.6 1187.0L305.5 1185.6L306.4 1184.1L307.4 1181.8L308.3 1180.5L309.3 1178.7L310.3 1176.9L311.3 1174.7L312.3 1173.5L313.3 1171.5L314.3 1170.0L315.3 1168.0L316.4 1166.7L317.4 1164.8L318.5 1162.6L319.5 1160.9L320.6 1159.9L321.7 1157.7L322.8 1156.0L323.9 1154.0L325.0 1152.9L326.1 1151.4L327.2 1149.8L328.3 1147.5L329.4 1146.5L330.5 1144.1L331.7 1142.7L332.8 1141.0L333.9 1139.6L335.1 1137.9L336.2 1136.3L337.4 1134.6L338.6 1133.4L339.7 1131.1L340.9 1129.4L342.1 1128.4L343.3 1126.3L344.5 1125.0L345.6 1123.7L346.8 1121.2L348.0 1120.3L349.2 1118.0L350.4 1116.8L351.6 1115.2L352.9 1113.8L354.1 1112.3L355.3 1110.0L356.5 1108.4L357.7 1107.4L358.9 1105.9L360.2 1103.7L361.4 1102.6L362.6 1100.6L363.8 1099.3L365.1 1098.2L366.3 1096.5L367.5 1094.8L368.8 1093.0L370.0 1091.9L371.3 1090.1L372.5 1087.8L373.8 1086.9L375.0 1085.2L376.2 1083.6L377.5 1082.0L378.7 1080.3L380.0 1078.7L381.2 1077.6L382.5 1076.0L383.7 1073.8L385.0 1072.9L386.2 1071.3L387.5 1069.7L388.7 1067.7L390.0 1066.2L391.2 1064.6L392.5 1063.6L393.8 1062.1L395.0 1060.2L396.3 1058.2L397.5 1056.6L398.8 1055.3L400.0 1053.5L401.3 1052.3L402.5 1050.5L403.8 1048.8L405.0 1047.3L406.3 1045.9L407.6 1044.7L408.8 1042.7L410.1 1041.4L411.3 1039.6L412.6 1037.8L413.8 1036.3L415.1 1034.9L416.3 1033.3L417.6 1031.5L418.8 1030.7L420.1 1028.9L421.4 1027.1L422.6 1026.1L423.9 1024.0L425.1 1022.3L426.4 1020.9L427.7 1019.7L429.0 1017.8L430.2 1016.2L431.5 1015.3L432.8 1013.4L434.1 1012.1L435.3 1010.7L436.6 1008.5L437.9 1007.2L439.2 1005.3L440.5 1004.6L441.8 1002.9L443.1 1001.3L444.4 999.3L445.8 998.6L447.1 996.1L448.4 995.0L449.7 994.0L451.1 991.9L452.4 990.9L453.7 989.6L455.1 987.8L456.4 985.9L457.8 985.1L459.2 983.1L460.5 982.2L461.9 979.9L463.3 979.3L464.7 977.7L466.1 975.5L467.5 974.7L468.9 972.8L470.3 971.7L471.7 970.3L473.1 968.4L474.6 967.7L476.0 966.5L477.4 964.7L478.8 963.1L480.3 962.0L481.7 960.3L483.1 959.1L484.6 957.6L486.0 955.9L487.5 955.2L488.9 953.3L490.4 951.7L491.8 950.2L493.3 949.3L494.7 947.6L496.2 946.8L497.7 944.8L499.1 943.3L500.6 942.1L502.1 941.4L503.6 940.0L505.0 938.8L506.5 937.4L508.0 935.4L509.5 934.4L511.0 933.1L512.4 931.5L513.9 930.2L515.4 928.8L516.9 927.3L518.4 926.6L519.9 925.2L521.4 923.2L522.9 922.1L524.4 920.8L525.9 920.0L527.4 918.4L529.0 917.0L530.5 915.5L532.0 914.6L533.5 913.5L535.0 912.3L536.5 910.1L538.1 909.3L539.6 907.5L541.1 907.0L542.7 905.5L544.2 904.0L545.7 902.6L547.3 901.1L548.8 900.6L550.3 899.3L551.9 898.1L553.4 896.8L555.0 894.6L556.5 894.2L558.1 892.1L559.6 891.8L561.2 890.3L562.7 889.2L564.3 887.8L565.9 886.7L567.4 885.3L569.0 884.2L570.6 882.0L572.1 881.4L573.7 880.4L575.3 879.2L576.8 877.1L578.4 876.3L580.0 875.1L581.6 873.6L583.2 872.5L584.7 871.7L586.3 870.6L587.9 869.1L589.5 868.1L591.1 866.1L592.7 865.2L594.3 863.6L595.9 862.5L597.5 861.7L599.1 860.6L600.7 859.0L602.3 858.1L603.9 857.2L605.5 855.9L607.1 854.5L608.7 853.4L610.3 851.8L611.9 850.9L613.5 849.8L615.1 848.0L616.8 846.8L618.4 845.9L620.0 845.2L621.6 843.7L623.2 842.9L624.9 841.2L626.5 840.0L628.1 839.4L629.7 837.7L631.4 836.7L633.0 835.8L634.6 834.2L636.3 832.7L637.9 832.1L639.5 830.7L641.2 829.7L642.8 828.4L644.4 827.6L646.1 826.3L647.7 825.4L649.4 823.8L651.0 822.6L652.6 821.7L654.3 820.8L655.9 819.8L657.6 818.0L659.2 816.6L660.8 815.8L662.5 815.0L664.1 813.7L665.8 812.7L667.4 811.3L669.1 810.0L670.7 809.2L672.3 808.1L674.0 806.9L675.6 805.1L677.3 804.3L678.9 803.3L680.6 802.0L682.2 800.7L683.8 800.0L685.5 798.2L687.1 797.5L688.8 795.9L690.4 795.1L692.0 794.6L693.7 793.4L695.3 791.7L697.0 790.3L698.6 789.9L700.2 788.8L701.9 787.0L703.5 785.6L705.1 784.5L706.8 784.1L708.4 782.1L710.0 781.3L711.7 780.0L713.3 778.7L714.9 777.4L716.5 776.2L718.2 775.2L719.8 774.4L721.4 773.0L723.0 772.2L724.6 770.8L726.3 769.8L727.9 768.1L729.5 767.0L731.1 766.5L732.7 765.3L734.3 763.8L736.0 763.0L737.6 761.7L739.2 760.5L740.8 758.9L742.4 757.3L744.0 756.6L745.6 755.8L747.2 754.0L748.8 752.9L750.4 751.3L752.0 750.3L753.6 748.9L755.2 748.5L756.8 747.3L758.4 746.0L760.0 744.6L761.5 743.2L763.1 741.9L764.7 740.6L766.3 739.8L767.9 737.8L769.5 737.5L771.1 735.7L772.7 734.4L774.2 733.7L775.8 732.1L777.4 731.4L779.0 729.7L780.6 728.9L782.1 727.3L783.7 726.5L785.3 724.5L786.9 723.3L788.4 722.8L790.0 721.4L791.6 719.5L793.2 718.8L794.7 717.3L796.3 715.7L797.9 715.1L799.5 714.1L801.0 712.7L802.6 711.4L804.2 709.8L805.7 708.2L807.3 707.1L808.9 706.4L810.4 704.9L812.0 704.0L813.6 702.9L815.1 701.5L816.7 700.1L818.3 698.3L819.8 697.6L821.4 696.1L822.9 695.1L824.5 693.6L826.1 692.4L827.6 691.2L829.2 689.6L830.8 689.0L832.3 687.7L833.9 686.1L835.4 684.9L837.0 683.7L838.6 682.5L840.1 680.9L841.7 679.4L843.2 678.1L844.8 677.4L846.3 675.9L847.9 674.9L849.5 673.8L851.0 672.4L852.6 670.7L854.1 670.1L855.7 668.8L857.2 666.9L858.8 665.7L860.4 664.4L861.9 663.4L863.5 662.6L865.0 661.0L866.6 659.4L868.1 658.7L869.7 657.4L871.3 655.7L872.8 654.4L874.4 653.4L875.9 652.4L877.5 651.0L879.0 649.1L880.6 647.8L882.1 647.3L883.7 645.5L885.3 644.1L886.8 642.9L888.4 642.2L889.9 641.2L891.5 639.8L893.0 637.7L894.6 637.1L896.2 635.5L897.7 634.3L899.3 633.1L900.8 631.7L902.4 630.4L903.9 629.5L905.5 627.9L907.1 626.6L908.6 625.3L910.2 624.8L911.7 623.0L913.3 621.7L914.9 620.4L916.4 619.4L918.0 617.7L919.5 616.3L921.1 615.8L922.7 614.6L924.2 612.7L925.8 611.9L927.3 610.2L928.9 609.1L930.5 608.4L932.0 606.9L933.6 605.8L935.1 603.9L936.7 603.0L938.3 601.4L939.8 600.8L941.4 598.7L943.0 598.3L944.5 596.9L946.1 595.8L947.7 594.5L949.2 592.6L950.8 591.8L952.4 590.7L953.9 589.6L955.5 588.1L957.1 586.5L958.6 585.7L960.2 583.7L961.8 583.0L963.3 581.8L964.9 580.2L966.5 579.1L968.0 578.3L969.6 576.8L971.2 577.2L972.8 577.5L974.3 577.8L975.9 577.3L977.5 574.5L979.1 571.7L980.6 568.9L982.2 566.8L983.8 565.3L985.4 564.2L986.9 563.5L988.5 562.0L990.1 561.0L991.7 559.3L993.3 558.6L994.8 557.0L996.4 555.5L998.0 554.7L999.6 553.0L1001.2 552.1L1002.8 550.8L1004.3 549.1L1005.9 548.6L1007.5 546.8L1009.1 545.4L1010.7 544.4L1012.3 543.5L1013.9 542.2L1015.4 541.1L1017.0 539.4L1018.6 539.0L1020.2 537.5L1021.8 536.3L1023.4 534.5L1025.0 533.2L1026.6 533.0L1028.2 531.0L1029.8 529.8L1031.4 528.6L1033.0 527.4L1034.6 526.6L1036.2 525.4L1037.8 524.5L1039.4 522.4L1041.0 521.9L1042.6 520.3L1044.2 519.0L1045.8 518.4L1047.4 516.7L1049.0 515.2L1050.6 514.2L1052.2 513.6L1053.8 512.4L1055.4 511.0L1057.0 510.1L1058.6 508.2L1060.3 507.4L1061.9 506.5L1063.5 504.6L1065.1 503.3L1066.7 502.9L1068.3 501.8L1069.9 499.8L1071.6 498.9L1073.2 497.8L1074.8 496.7L1076.4 495.6L1078.0 494.2L1079.6 492.6L1081.3 492.3L1082.9 490.8L1084.5 489.8L1086.1 488.1L1087.8 487.2L1089.4 486.4L1091.0 484.4L1092.7 483.3L1094.3 482.2L1095.9 480.8L1097.5 479.7L1099.2 479.2L1100.8 478.3L1102.4 476.9L1104.1 475.9L1105.7 473.9L1107.3 473.4L1109.0 472.3L1110.6 470.5L1112.2 469.6L1113.9 468.4L1115.5 467.6L1117.1 465.9L1118.8 464.9L1120.4 463.9L1122.1 463.3L1123.7 461.5L1125.3 460.2L1127.0 459.6L1128.6 458.0L1130.3 457.0L1131.9 455.9L1133.5 454.8L1135.2 453.6L1136.8 452.1L1138.5 450.9L1140.1 449.9L1141.7 449.4L1143.4 448.0L1145.0 446.5L1146.7 445.2L1148.3 443.9L1149.9 442.8L1151.6 442.2L1153.2 441.0L1154.9 440.2L1156.5 438.6L1158.2 437.8L1159.8 436.4L1161.4 434.7L1163.1 433.6L1164.7 432.6L1166.4 432.1L1168.0 430.6L1169.6 429.0L1171.3 428.0L1172.9 426.8L1174.6 426.0L1176.2 425.2L1177.8 423.5L1179.5 422.8L1181.1 421.2L1182.8 420.4L1184.4 419.5L1186.0 417.7L1187.7 416.3L1189.3 415.2L1190.9 414.0L1192.6 413.4L1194.2 412.6L1195.8 410.7L1197.5 409.3L1199.1 408.5L1200.7 407.4L1202.4 405.9L1204.0 405.2L1205.6 403.5L1207.3 403.3L1208.9 402.1L1210.5 400.3L1212.2 398.9L1213.8 398.0L1215.4 397.0L1217.1 395.5L1218.7 394.2L1220.3 393.2L1221.9 392.3L1223.6 391.2L1225.2 389.9L1226.8 388.5L1228.4 388.1L1230.0 386.6L1231.7 385.7L1233.3 384.6L1234.9 382.8L1236.5 382.1L1238.1 380.3L1239.8 378.9L1241.4 377.8L1243.0 377.1L1244.6 375.8L1246.2 374.3L1247.8 373.4L1249.4 372.3L1251.1 370.7L1252.7 369.5L1254.3 368.8L1255.9 367.0L1257.5 366.6L1259.1 364.8L1260.7 363.6L1262.3 362.2L1263.9 361.2L1265.5 359.8L1267.1 358.8L1268.7 357.7L1270.3 357.1L1271.9 355.3L1273.5 353.7L1275.1 353.5L1276.7 351.8L1278.3 350.6L1279.9 349.3L1281.5 348.2L1283.0 347.1L1284.6 345.8L1286.2 344.9L1287.8 343.2L1289.4 341.6L1291.0 340.6L1292.6 340.0L1294.1 338.2L1295.7 336.7L1297.3 336.3L1298.9 334.7L1300.5 333.3L1302.0 331.7L1303.6 330.8L1305.2 329.8L1306.8 328.8L1308.3 327.6L1309.9 326.3L1311.5 324.7L1313.1 323.6L1314.7 321.8L1316.2 320.9L1317.8 319.7L1319.4 318.8L1321.0 317.3L1322.5 316.1L1324.1 314.9L1325.7 313.4L1327.3 312.6L1328.9 311.0L1330.4 310.4L1332.0 308.4L1333.6 307.4L1335.2 306.0L1336.8 305.0L1338.4 303.5L1339.9 302.3L1341.5 301.0L1343.1 300.2L1344.7 298.8L1346.3 297.2L1347.9 297.0L1349.5 295.0L1351.1 293.7L1352.7 292.6L1354.3 291.3L1355.9 290.6L1357.5 289.4L1359.1 287.7L1360.7 286.8L1362.3 285.2L1363.9 284.4L1365.5 283.2" stroke="#515151" stroke-width="10.3" stroke-linecap="round" shape-rendering="crispEdges"/>
<path d="M270.5 1290.0L270.9 1288.5L271.3 1286.3L271.7 1284.6L272.1 1281.9L272.5 1279.8L272.9 1278.6L273.3 1275.8L273.7 1273.9L274.2 1272.4L274.6 1270.0L275.0 1268.3L275.5 1266.6L275.9 1264.5L276.4 1262.1L276.8 1260.3L277.3 1258.6L277.8 1256.3L278.2 1254.6L278.7 1253.3L279.2 1250.7L279.7 1248.7L280.2 1246.9L280.8 1245.4L281.3 1243.2L281.8 1241.0L282.4 1239.1L282.9 1237.8L283.5 1235.1L284.1 1233.3L284.7 1231.8L285.3 1229.6L285.9 1227.8L286.5 1226.1L287.1 1223.6L287.8 1221.8L288.4 1220.2L289.1 1217.9L289.8 1216.0L290.5 1214.1L291.2 1212.5L292.0 1211.2L292.7 1209.3L293.5 1207.4L294.3 1205.2L295.0 1203.8L295.8 1201.4L296.7 1199.3L297.5 1197.6L298.3 1196.1L299.2 1194.1L300.1 1192.3L300.9 1190.2L301.8 1189.0L302.7 1187.3L303.6 1185.2L304.6 1183.2L305.5 1181.5L306.4 1180.3L307.4 1178.1L308.3 1176.4L309.3 1175.0L310.3 1173.4L311.3 1171.5L312.3 1169.4L313.3 1167.7L314.3 1166.1L315.3 1164.3L316.4 1163.0L317.4 1161.2L318.5 1158.8L319.5 1157.3L320.6 1155.7L321.7 1154.3L322.8 1152.6L323.9 1150.8L325.0 1148.9L326.1 1146.9L327.2 1145.3L328.3 1144.4L329.4 1142.1L330.5 1140.7L331.7 1139.4L332.8 1137.4L333.9 1135.9L335.1 1133.7L336.2 1132.5L337.4 1130.9L338.6 1129.1L339.7 1127.8L340.9 1125.7L342.1 1124.0L343.3 1122.6L344.5 1121.3L345.6 1119.4L346.8 1118.0L348.0 1116.6L349.2 1114.9L350.4 1113.5L351.6 1111.8L352.9 1109.8L354.1 1108.8L355.3 1107.1L356.5 1105.2L357.7 1103.6L358.9 1101.9L360.2 1100.2L361.4 1098.4L362.6 1097.0L363.8 1095.2L365.1 1093.9L366.3 1092.1L367.5 1091.2L368.8 1089.7L370.0 1088.2L371.3 1086.6L372.5 1084.6L373.8 1083.0L375.0 1081.9L376.2 1079.7L377.5 1078.3L378.7 1076.5L380.0 1075.1L381.2 1073.7L382.5 1071.9L383.7 1070.9L385.0 1069.4L386.2 1067.0L387.5 1065.6L388.7 1064.2L390.0 1062.2L391.2 1060.8L392.5 1059.3L393.8 1058.3L395.0 1055.9L396.3 1055.1L397.5 1053.3L398.8 1051.8L400.0 1050.1L401.3 1048.9L402.5 1047.4L403.8 1045.2L405.0 1044.1L406.3 1042.1L407.6 1041.1L408.8 1038.9L410.1 1037.9L411.3 1036.6L412.6 1034.0L413.8 1032.6L415.1 1031.9L416.3 1029.6L417.6 1028.1L418.8 1026.8L420.1 1025.1L421.4 1023.2L422.6 1022.3L423.9 1020.1L425.1 1019.4L426.4 1016.9L427.7 1015.5L429.0 1014.6L430.2 1012.7L431.5 1011.6L432.8 1009.9L434.1 1007.9L435.3 1007.0L436.6 1004.9L437.9 1003.2L439.2 1001.7L440.5 1000.9L441.8 998.5L443.1 997.4L444.4 995.4L445.8 994.4L447.1 992.7L448.4 991.0L449.7 989.6L451.1 988.1L452.4 986.4L453.7 985.4L455.1 983.6L456.4 982.9L457.8 981.0L459.2 979.9L460.5 977.8L461.9 976.3L463.3 975.4L464.7 973.5L466.1 972.3L467.5 970.9L468.9 969.1L470.3 967.6L471.7 966.1L473.1 964.7L474.6 964.0L476.0 962.7L477.4 960.9L478.8 959.6L480.3 957.8L481.7 956.6L483.1 955.2L484.6 953.8L486.0 953.0L487.5 951.3L488.9 949.7L490.4 948.2L491.8 946.9L493.3 946.1L494.7 944.5L496.2 942.5L497.7 941.1L499.1 939.8L500.6 938.8L502.1 937.3L503.6 936.5L505.0 935.2L506.5 933.5L508.0 932.3L509.5 931.1L511.0 929.3L512.4 928.4L513.9 926.3L515.4 925.1L516.9 924.4L518.4 922.5L519.9 921.0L521.4 920.1L522.9 918.3L524.4 917.5L525.9 915.6L527.4 915.1L529.0 913.5L530.5 912.0L532.0 911.0L533.5 909.3L535.0 908.5L536.5 906.5L538.1 906.0L539.6 904.0L541.1 902.5L542.7 902.0L544.2 900.6L545.7 898.9L547.3 897.9L548.8 896.0L550.3 895.7L551.9 893.7L553.4 892.7L555.0 891.6L556.5 889.8L558.1 888.6L559.6 887.8L561.2 886.2L562.7 884.9L564.3 884.1L565.9 882.8L567.4 881.3L569.0 879.6L570.6 879.0L572.1 877.6L573.7 876.5L575.3 875.4L576.8 873.9L578.4 872.9L580.0 871.0L581.6 870.2L583.2 869.0L584.7 867.4L586.3 866.2L587.9 865.5L589.5 863.6L591.1 862.4L592.7 861.1L594.3 860.6L595.9 858.8L597.5 857.9L599.1 856.3L600.7 856.0L602.3 854.3L603.9 853.1L605.5 851.5L607.1 850.8L608.7 849.8L610.3 848.4L611.9 846.9L613.5 846.4L615.1 844.4L616.8 843.4L618.4 842.6L620.0 841.1L621.6 839.8L623.2 838.7L624.9 837.7L626.5 836.7L628.1 835.3L629.7 834.4L631.4 832.7L633.0 831.6L634.6 831.0L636.3 829.5L637.9 828.2L639.5 827.5L641.2 825.6L642.8 825.3L644.4 823.7L646.1 822.8L647.7 821.2L649.4 819.8L651.0 818.6L652.6 817.8L654.3 817.2L655.9 816.1L657.6 814.2L659.2 813.1L660.8 812.5L662.5 811.4L664.1 809.5L665.8 808.9L667.4 807.9L669.1 806.6L670.7 805.7L672.3 803.8L674.0 803.0L675.6 802.3L677.3 800.5L678.9 799.9L680.6 798.7L682.2 797.1L683.8 796.6L685.5 794.9L687.1 794.0L688.8 792.8L690.4 791.9L692.0 790.2L693.7 789.2L695.3 787.9L697.0 786.6L698.6 786.1L700.2 784.5L701.9 783.4L703.5 782.5L705.1 780.8L706.8 779.6L708.4 779.2L710.0 777.3L711.7 776.1L713.3 774.9L714.9 774.0L716.5 773.2L718.2 772.3L719.8 771.0L721.4 769.9L723.0 768.1L724.6 767.6L726.3 766.2L727.9 764.5L729.5 763.9L731.1 762.3L732.7 761.1L734.3 759.9L736.0 758.6L737.6 757.9L739.2 756.5L740.8 754.9L742.4 754.4L744.0 753.0L745.6 751.6L747.2 750.2L748.8 748.9L750.4 748.0L752.0 747.2L753.6 745.5L755.2 744.3L756.8 742.7L758.4 742.1L760.0 740.5L761.5 739.5L763.1 738.5L764.7 737.3L766.3 735.6L767.9 734.6L769.5 733.7L771.1 732.1L772.7 730.7L774.2 729.9L775.8 728.7L777.4 727.3L779.0 725.5L780.6 724.7L782.1 723.4L783.7 722.7L785.3 720.6L786.9 719.7L788.4 718.7L790.0 717.0L791.6 716.5L793.2 714.8L794.7 714.0L796.3 712.8L797.9 711.1L799.5 709.8L801.0 708.7L802.6 707.5L804.2 706.3L805.7 705.0L807.3 704.0L808.9 702.0L810.4 700.7L812.0 699.5L813.6 698.5L815.1 697.3L816.7 696.0L818.3 694.4L819.8 693.5L821.4 692.6L822.9 691.0L824.5 690.3L826.1 688.5L827.6 687.3L829.2 686.4L830.8 685.2L832.3 684.0L833.9 682.0L835.4 680.7L837.0 680.0L838.6 679.1L840.1 677.6L841.7 676.2L843.2 674.6L844.8 673.7L846.3 672.1L847.9 671.0L849.5 669.4L851.0 668.9L852.6 667.2L854.1 666.1L855.7 665.1L857.2 663.8L858.8 662.0L860.4 661.1L861.9 659.5L863.5 658.2L865.0 657.4L866.6 655.7L868.1 654.9L869.7 652.9L871.3 651.9L872.8 651.0L874.4 649.4L875.9 648.2L877.5 647.4L879.0 645.3L880.6 644.8L882.1 643.3L883.7 642.0L885.3 640.7L886.8 639.7L888.4 638.5L889.9 637.1L891.5 635.5L893.0 634.4L894.6 633.0L896.2 631.5L897.7 630.2L899.3 629.5L900.8 628.0L902.4 626.9L903.9 625.3L905.5 624.1L907.1 623.3L908.6 621.4L910.2 620.1L911.7 619.7L913.3 617.9L914.9 616.7L916.4 615.6L918.0 613.9L919.5 612.6L921.1 611.5L922.7 610.8L924.2 608.9L925.8 608.3L927.3 606.6L928.9 605.1L930.5 604.7L932.0 602.9L933.6 601.8L935.1 600.4L936.7 598.8L938.3 598.4L939.8 597.0L941.4 595.2L943.0 594.1L944.5 592.6L946.1 591.6L947.7 590.6L949.2 588.9L950.8 587.8L952.4 587.2L953.9 585.6L955.5 584.5L957.1 583.3L958.6 582.1L960.2 580.1L961.8 579.6L963.3 577.8L964.9 577.0L966.5 575.5L968.0 574.7L969.6 572.8L971.2 571.3L972.8 570.3L974.3 569.5L975.9 567.6L977.5 567.2L979.1 565.7L980.6 564.3L982.2 563.0L983.8 561.4L985.4 560.2L986.9 559.3L988.5 558.0L990.1 557.1L991.7 555.8L993.3 554.4L994.8 553.7L996.4 552.1L998.0 551.2L999.6 549.7L1001.2 548.4L1002.8 547.3L1004.3 546.3L1005.9 544.4L1007.5 543.7L1009.1 542.6L1010.7 540.8L1012.3 539.8L1013.9 538.2L1015.4 537.3L1017.0 535.7L1018.6 534.8L1020.2 533.6L1021.8 532.6L1023.4 531.2L1025.0 530.3L1026.6 528.5L1028.2 527.2L1029.8 526.4L1031.4 525.0L1033.0 524.0L1034.6 523.0L1036.2 521.8L1037.8 520.7L1039.4 519.3L1041.0 518.3L1042.6 517.2L1044.2 515.2L1045.8 514.4L1047.4 513.5L1049.0 511.6L1050.6 510.9L1052.2 509.1L1053.8 508.3L1055.4 507.5L1057.0 506.2L1058.6 504.9L1060.3 503.5L1061.9 502.0L1063.5 500.9L1065.1 499.7L1066.7 499.2L1068.3 498.1L1069.9 496.6L1071.6 495.6L1073.2 494.0L1074.8 493.3L1076.4 491.8L1078.0 490.3L1079.6 489.5L1081.3 488.1L1082.9 486.9L1084.5 486.2L1086.1 484.3L1087.8 483.8L1089.4 482.2L1091.0 480.9L1092.7 480.3L1094.3 478.9L1095.9 477.2L1097.5 476.2L1099.2 474.8L1100.8 474.2L1102.4 472.9L1104.1 471.7L1105.7 470.3L1107.3 469.3L1109.0 468.0L1110.6 467.6L1112.2 465.8L1113.9 464.5L1115.5 463.3L1117.1 462.7L1118.8 461.5L1120.4 460.2L1122.1 459.4L1123.7 457.6L1125.3 457.0L1127.0 455.4L1128.6 454.5L1130.3 453.3L1131.9 452.3L1133.5 451.3L1135.2 449.5L1136.8 448.3L1138.5 448.0L1140.1 446.1L1141.7 445.7L1143.4 444.4L1145.0 443.5L1146.7 442.0L1148.3 441.1L1149.9 439.2L1151.6 438.4L1153.2 437.3L1154.9 436.5L1156.5 434.8L1158.2 433.9L1159.8 432.3L1161.4 431.9L1163.1 430.7L1164.7 429.3L1166.4 428.4L1168.0 427.0L1169.6 426.2L1171.3 424.3L1172.9 423.6L1174.6 422.2L1176.2 420.8L1177.8 420.3L1179.5 419.2L1181.1 417.7L1182.8 416.7L1184.4 415.2L1186.0 414.2L1187.7 413.2L1189.3 412.3L1190.9 410.3L1192.6 409.4L1194.2 408.3L1195.8 407.4L1197.5 406.3L1199.1 405.0L1200.7 403.4L1202.4 403.0L1204.0 401.7L1205.6 400.2L1207.3 398.7L1208.9 398.3L1210.5 396.5L1212.2 395.6L1213.8 394.7L1215.4 393.4L1217.1 392.5L1218.7 390.6L1220.3 389.9L1221.9 388.1L1223.6 387.1L1225.2 386.6L1226.8 385.3L1228.4 384.1L1230.0 382.6L1231.7 381.7L1233.3 380.3L1234.9 378.7L1236.5 377.8L1238.1 377.2L1239.8 376.1L1241.4 374.6L1243.0 373.0L1244.6 372.2L1246.2 371.2L1247.8 369.8L1249.4 368.9L1251.1 367.8L1252.7 366.5L1254.3 364.5L1255.9 363.5L1257.5 362.7L1259.1 361.2L1260.7 360.5L1262.3 359.0L1263.9 357.6L1265.5 356.4L1267.1 355.0L1268.7 354.3L1270.3 352.9L1271.9 352.1L1273.5 350.1L1275.1 348.9L1276.7 347.9L1278.3 347.1L1279.9 345.8L1281.5 344.3L1283.0 343.2L1284.6 341.8L1286.2 340.5L1287.8 340.0L1289.4 338.3L1291.0 337.5L1292.6 336.0L1294.1 334.5L1295.7 333.8L1297.3 332.4L1298.9 330.4L1300.5 329.5L1302.0 328.0L1303.6 327.0L1305.2 326.4L1306.8 324.8L1308.3 323.5L1309.9 322.2L1311.5 320.9L1313.1 320.1L1314.7 318.8L1316.2 316.9L1317.8 316.0L1319.4 315.2L1321.0 313.2L1322.5 312.8L1324.1 311.1L1325.7 309.7L1327.3 309.1L1328.9 308.0L1330.4 306.6L1332.0 304.7L1333.6 303.3L1335.2 302.3L1336.8 301.7L1338.4 300.5L1339.9 298.4L1341.5 297.9L1343.1 296.7L1344.7 294.8L1346.3 294.3L1347.9 292.8L1349.5 291.3L1351.1 290.2L1352.7 289.1L1354.3 288.3L1355.9 286.3L1357.5 285.6L1359.1 284.3L1360.7 282.7L1362.3 281.9L1363.9 280.7L1365.5 279.5" stroke="#515151" stroke-width="7.800000000000001" stroke-linecap="round"/>
<path d="M270.5 1290.0L270.9 1288.5L271.3 1286.3L271.7 1284.6L272.1 1281.9L272.5 1279.8L272.9 1278.6L273.3 1275.8L273.7 1273.9L274.2 1272.4L274.6 1270.0L275.0 1268.3L275.5 1266.6L275.9 1264.5L276.4 1262.1L276.8 1260.3L277.3 1258.6L277.8 1256.3L278.2 1254.6L278.7 1253.3L279.2 1250.7L279.7 1248.7L280.2 1246.9L280.8 1245.4L281.3 1243.2L281.8 1241.0L282.4 1239.1L282.9 1237.8L283.5 1235.1L284.1 1233.3L284.7 1231.8L285.3 1229.6L285.9 1227.8L286.5 1226.1L287.1 1223.6L287.8 1221.8L288.4 1220.2L289.1 1217.9L289.8 1216.0L290.5 1214.1L291.2 1212.5L292.0 1211.2L292.7 1209.3L293.5 1207.4L294.3 1205.2L295.0 1203.8L295.8 1201.4L296.7 1199.3L297.5 1197.6L298.3 1196.1L299.2 1194.1L300.1 1192.3L300.9 1190.2L301.8 1189.0L302.7 1187.3L303.6 1185.2L304.6 1183.2L305.5 1181.5L306.4 1180.3L307.4 1178.1L308.3 1176.4L309.3 1175.0L310.3 1173.4L311.3 1171.5L312.3 1169.4L313.3 1167.7L314.3 1166.1L315.3 1164.3L316.4 1163.0L317.4 1161.2L318.5 1158.8L319.5 1157.3L320.6 1155.7L321.7 1154.3L322.8 1152.6L323.9 1150.8L325.0 1148.9L326.1 1146.9L327.2 1145.3L328.3 1144.4L329.4 1142.1L330.5 1140.7L331.7 1139.4L332.8 1137.4L333.9 1135.9L335.1 1133.7L336.2 1132.5L337.4 1130.9L338.6 1129.1L339.7 1127.8L340.9 1125.7L342.1 1124.0L343.3 1122.6L344.5 1121.3L345.6 1119.4L346.8 1118.0L348.0 1116.6L349.2 1114.9L350.4 1113.5L351.6 1111.8L352.9 1109.8L354.1 1108.8L355.3 1107.1L356.5 1105.2L357.7 1103.6L358.9 1101.9L360.2 1100.2L361.4 1098.4L362.6 1097.0L363.8 1095.2L365.1 1093.9L366.3 1092.1L367.5 1091.2L368.8 1089.7L370.0 1088.2L371.3 1086.6L372.5 1084.6L373.8 1083.0L375.0 1081.9L376.2 1079.7L377.5 1078.3L378.7 1076.5L380.0 1075.1L381.2 1073.7L382.5 1071.9L383.7 1070.9L385.0 1069.4L386.2 1067.0L387.5 1065.6L388.7 1064.2L390.0 1062.2L391.2 1060.8L392.5 1059.3L393.8 1058.3L395.0 1055.9L396.3 1055.1L397.5 1053.3L398.8 1051.8L400.0 1050.1L401.3 1048.9L402.5 1047.4L403.8 1045.2L405.0 1044.1L406.3 1042.1L407.6 1041.1L408.8 1038.9L410.1 1037.9L411.3 1036.6L412.6 1034.0L413.8 1032.6L415.1 1031.9L416.3 1029.6L417.6 1028.1L418.8 1026.8L420.1 1025.1L421.4 1023.2L422.6 1022.3L423.9 1020.1L425.1 1019.4L426.4 1016.9L427.7 1015.5L429.0 1014.6L430.2 1012.7L431.5 1011.6L432.8 1009.9L434.1 1007.9L435.3 1007.0L436.6 1004.9L437.9 1003.2L439.2 1001.7L440.5 1000.9L441.8 998.5L443.1 997.4L444.4 995.4L445.8 994.4L447.1 992.7L448.4 991.0L449.7 989.6L451.1 988.1L452.4 986.4L453.7 985.4L455.1 983.6L456.4 982.9L457.8 981.0L459.2 979.9L460.5 977.8L461.9 976.3L463.3 975.4L464.7 973.5L466.1 972.3L467.5 970.9L468.9 969.1L470.3 967.6L471.7 966.1L473.1 964.7L474.6 964.0L476.0 962.7L477.4 960.9L478.8 959.6L480.3 957.8L481.7 956.6L483.1 955.2L484.6 953.8L486.0 953.0L487.5 951.3L488.9 949.7L490.4 948.2L491.8 946.9L493.3 946.1L494.7 944.5L496.2 942.5L497.7 941.1L499.1 939.8L500.6 938.8L502.1 937.3L503.6 936.5L505.0 935.2L506.5 933.5L508.0 932.3L509.5 931.1L511.0 929.3L512.4 928.4L513.9 926.3L515.4 925.1L516.9 924.4L518.4 922.5L519.9 921.0L521.4 920.1L522.9 918.3L524.4 917.5L525.9 915.6L527.4 915.1L529.0 913.5L530.5 912.0L532.0 911.0L533.5 909.3L535.0 908.5L536.5 906.5L538.1 906.0L539.6 904.0L541.1 902.5L542.7 902.0L544.2 900.6L545.7 898.9L547.3 897.9L548.8 896.0L550.3 895.7L551.9 893.7L553.4 892.7L555.0 891.6L556.5 889.8L558.1 888.6L559.6 887.8L561.2 886.2L562.7 884.9L564.3 884.1L565.9 882.8L567.4 881.3L569.0 879.6L570.6 879.0L572.1 877.6L573.7 876.5L575.3 875.4L576.8 873.9L578.4 872.9L580.0 871.0L581.6 870.2L583.2 869.0L584.7 867.4L586.3 866.2L587.9 865.5L589.5 863.6L591.1 862.4L592.7 861.1L594.3 860.6L595.9 858.8L597.5 857.9L599.1 856.3L600.7 856.0L602.3 854.3L603.9 853.1L605.5 851.5L607.1 850.8L608.7 849.8L610.3 848.4L611.9 846.9L613.5 846.4L615.1 844.4L616.8 843.4L618.4 842.6L620.0 841.1L621.6 839.8L623.2 838.7L624.9 837.7L626.5 836.7L628.1 835.3L629.7 834.4L631.4 832.7L633.0 831.6L634.6 831.0L636.3 829.5L637.9 828.2L639.5 827.5L641.2 825.6L642.8 825.3L644.4 823.7L646.1 822.8L647.7 821.2L649.4 819.8L651.0 818.6L652.6 817.8L654.3 817.2L655.9 816.1L657.6 814.2L659.2 813.1L660.8 812.5L662.5 811.4L664.1 809.5L665.8 808.9L667.4 807.9L669.1 806.6L670.7 805.7L672.3 803.8L674.0 803.0L675.6 802.3L677.3 800.5L678.9 799.9L680.6 798.7L682.2 797.1L683.8 796.6L685.5 794.9L687.1 794.0L688.8 792.8L690.4 791.9L692.0 790.2L693.7 789.2L695.3 787.9L697.0 786.6L698.6 786.1L700.2 784.5L701.9 783.4L703.5 782.5L705.1 780.8L706.8 779.6L708.4 779.2L710.0 777.3L711.7 776.1L713.3 774.9L714.9 774.0L716.5 773.2L718.2 772.3L719.8 771.0L721.4 769.9L723.0 768.1L724.6 767.6L726.3 766.2L727.9 764.5L729.5 763.9L731.1 762.3L732.7 761.1L734.3 759.9L736.0 758.6L737.6 757.9L739.2 756.5L740.8 754.9L742.4 754.4L744.0 753.0L745.6 751.6L747.2 750.2L748.8 748.9L750.4 748.0L752.0 747.2L753.6 745.5L755.2 744.3L756.8 742.7L758.4 742.1L760.0 740.5L761.5 739.5L763.1 738.5L764.7 737.3L766.3 735.6L767.9 734.6L769.5 733.7L771.1 732.1L772.7 730.7L774.2 729.9L775.8 728.7L777.4 727.3L779.0 725.5L780.6 724.7L782.1 723.4L783.7 722.7L785.3 720.6L786.9 719.7L788.4 718.7L790.0 717.0L791.6 716.5L793.2 714.8L794.7 714.0L796.3 712.8L797.9 711.1L799.5 709.8L801.0 708.7L802.6 707.5L804.2 706.3L805.7 705.0L807.3 704.0L808.9 702.0L810.4 700.7L812.0 699.5L813.6 698.5L815.1 697.3L816.7 696.0L818.3 694.4L819.8 693.5L821.4 692.6L822.9 691.0L824.5 690.3L826.1 688.5L827.6 687.3L829.2 686.4L830.8 685.2L832.3 684.0L833.9 682.0L835.4 680.7L837.0 680.0L838.6 679.1L840.1 677.6L841.7 676.2L843.2 674.6L844.8 673.7L846.3 672.1L847.9 671.0L849.5 669.4L851.0 668.9L852.6 667.2L854.1 666.1L855.7 665.1L857.2 663.8L858.8 662.0L860.4 661.1L861.9 659.5L863.5 658.2L865.0 657.4L866.6 655.7L868.1 654.9L869.7 652.9L871.3 651.9L872.8 651.0L874.4 649.4L875.9 648.2L877.5 647.4L879.0 645.3L880.6 644.8L882.1 643.3L883.7 642.0L885.3 640.7L886.8 639.7L888.4 638.5L889.9 637.1L891.5 635.5L893.0 634.4L894.6 633.0L896.2 631.5L897.7 630.2L899.3 629.5L900.8 628.0L902.4 626.9L903.9 625.3L905.5 624.1L907.1 623.3L908.6 621.4L910.2 620.1L911.7 619.7L913.3 617.9L914.9 616.7L916.4 615.6L918.0 613.9L919.5 612.6L921.1 611.5L922.7 610.8L924.2 608.9L925.8 608.3L927.3 606.6L928.9 605.1L930.5 604.7L932.0 602.9L933.6 601.8L935.1 600.4L936.7 598.8L938.3 598.4L939.8 597.0L941.4 595.2L943.0 594.1L944.5 592.6L946.1 591.6L947.7 590.6L949.2 588.9L950.8 587.8L952.4 587.2L953.9 585.6L955.5 584.5L957.1 583.3L958.6 582.1L960.2 580.1L961.8 579.6L963.3 577.8L964.9 577.0L966.5 575.5L968.0 574.7L969.6 572.8L971.2 571.3L972.8 570.3L974.3 569.5L975.9 567.6L977.5 567.2L979.1 565.7L980.6 564.3L982.2 563.0L983.8 561.4L985.4 560.2L986.9 559.3L988.5 558.0L990.1 557.1L991.7 555.8L993.3 554.4L994.8 553.7L996.4 552.1L998.0 551.2L999.6 549.7L1001.2 548.4L1002.8 547.3L1004.3 546.3L1005.9 544.4L1007.5 543.7L1009.1 542.6L1010.7 540.8L1012.3 539.8L1013.9 538.2L1015.4 537.3L1017.0 535.7L1018.6 534.8L1020.2 533.6L1021.8 532.6L1023.4 531.2L1025.0 530.3L1026.6 528.5L1028.2 527.2L1029.8 526.4L1031.4 525.0L1033.0 524.0L1034.6 523.0L1036.2 521.8L1037.8 520.7L1039.4 519.3L1041.0 518.3L1042.6 517.2L1044.2 515.2L1045.8 514.4L1047.4 513.5L1049.0 511.6L1050.6 510.9L1052.2 509.1L1053.8 508.3L1055.4 507.5L1057.0 506.2L1058.6 504.9L1060.3 503.5L1061.9 502.0L1063.5 500.9L1065.1 499.7L1066.7 499.2L1068.3 498.1L1069.9 496.6L1071.6 495.6L1073.2 494.0L1074.8 493.3L1076.4 491.8L1078.0 490.3L1079.6 489.5L1081.3 488.1L1082.9 486.9L1084.5 486.2L1086.1 484.3L1087.8 483.8L1089.4 482.2L1091.0 480.9L1092.7 480.3L1094.3 478.9L1095.9 477.2L1097.5 476.2L1099.2 474.8L1100.8 474.2L1102.4 472.9L1104.1 471.7L1105.7 470.3L1107.3 469.3L1109.0 468.0L1110.6 467.6L1112.2 465.8L1113.9 464.5L1115.5 463.3L1117.1 462.7L1118.8 461.5L1120.4 460.2L1122.1 459.4L1123.7 457.6L1125.3 457.0L1127.0 455.4L1128.6 454.5L1130.3 453.3L1131.9 452.3L1133.5 451.3L1135.2 449.5L1136.8 448.3L1138.5 448.0L1140.1 446.1L1141.7 445.7L1143.4 444.4L1145.0 443.5L1146.7 442.0L1148.3 441.1L1149.9 439.2L1151.6 438.4L1153.2 437.3L1154.9 436.5L1156.5 434.8L1158.2 433.9L1159.8 432.3L1161.4 431.9L1163.1 430.7L1164.7 429.3L1166.4 428.4L1168.0 427.0L1169.6 426.2L1171.3 424.3L1172.9 423.6L1174.6 422.2L1176.2 420.8L1177.8 420.3L1179.5 419.2L1181.1 417.7L1182.8 416.7L1184.4 415.2L1186.0 414.2L1187.7 413.2L1189.3 412.3L1190.9 410.3L1192.6 409.4L1194.2 408.3L1195.8 407.4L1197.5 406.3L1199.1 405.0L1200.7 403.4L1202.4 403.0L1204.0 401.7L1205.6 400.2L1207.3 398.7L1208.9 398.3L1210.5 396.5L1212.2 395.6L1213.8 394.7L1215.4 393.4L1217.1 392.5L1218.7 390.6L1220.3 389.9L1221.9 388.1L1223.6 387.1L1225.2 386.6L1226.8 385.3L1228.4 384.1L1230.0 382.6L1231.7 381.7L1233.3 380.3L1234.9 378.7L1236.5 377.8L1238.1 377.2L1239.8 376.1L1241.4 374.6L1243.0 373.0L1244.6 372.2L1246.2 371.2L1247.8 369.8L1249.4 368.9L1251.1 367.8L1252.7 366.5L1254.3 364.5L1255.9 363.5L1257.5 362.7L1259.1 361.2L1260.7 360.5L1262.3 359.0L1263.9 357.6L1265.5 356.4L1267.1 355.0L1268.7 354.3L1270.3 352.9L1271.9 352.1L1273.5 350.1L1275.1 348.9L1276.7 347.9L1278.3 347.1L1279.9 345.8L1281.5 344.3L1283.0 343.2L1284.6 341.8L1286.2 340.5L1287.8 340.0L1289.4 338.3L1291.0 337.5L1292.6 336.0L1294.1 334.5L1295.7 333.8L1297.3 332.4L1298.9 330.4L1300.5 329.5L1302.0 328.0L1303.6 327.0L1305.2 326.4L1306.8 324.8L1308.3 323.5L1309.9 322.2L1311.5 320.9L1313.1 320.1L1314.7 318.8L1316.2 316.9L1317.8 316.0L1319.4 315.2L1321.0 313.2L1322.5 312.8L1324.1 311.1L1325.7 309.7L1327.3 309.1L1328.9 308.0L1330.4 306.6L1332.0 304.7L1333.6 303.3L1335.2 302.3L1336.8 301.7L1338.4 300.5L1339.9 298.4L1341.5 297.9L1343.1 296.7L1344.7 294.8L1346.3 294.3L1347.9 292.8L1349.5 291.3L1351.1 290.2L1352.7 289.1L1354.3 288.3L1355.9 286.3L1357.5 285.6L1359.1 284.3L1360.7 282.7L1362.3 281.9L1363.9 280.7L1365.5 279.5" stroke="#515151" stroke-width="10.3" stroke-linecap="round" shape-rendering="crispEdges"/>
<path d="M270.0 1297.5L270.6 1295.7L271.2 1293.5L271.9 1291.8L272.6 1289.6L273.4 1288.4L274.2 1286.5L275.1 1284.1L275.9 1282.9L276.8 1280.6L277.7 1278.9L278.7 1277.4L279.6 1275.8L280.6 1274.0L281.6 1271.7L282.6 1270.3L283.6 1268.6L284.6 1266.8L285.7 1265.3L286.7 1263.2L287.8 1261.9L288.9 1259.7L290.0 1258.1L291.1 1256.4L292.2 1254.9L293.3 1253.4L294.4 1251.6L295.5 1250.2L296.6 1248.2L297.8 1246.9L298.9 1245.2L300.1 1243.3L301.2 1241.7L302.4 1240.5L303.6 1238.6L304.8 1237.2L305.9 1235.5L307.1 1233.9L308.3 1232.0L309.5 1230.4L310.7 1228.8L311.9 1227.6L313.1 1225.4L314.4 1224.4L315.6 1222.4L316.8 1220.9L318.1 1219.3L319.3 1217.7L320.5 1216.2L321.8 1214.3L323.0 1212.8L324.3 1211.6L325.5 1210.0L326.8 1208.0L328.1 1206.7L329.3 1205.1L330.6 1203.4L331.9 1202.2L333.2 1200.6L334.5 1198.8L335.7 1197.6L337.0 1196.2L338.3 1194.2L339.6 1192.8L340.9 1191.5L342.2 1189.9L343.5 1188.4L344.8 1186.9L346.2 1185.6L347.5 1183.9L348.8 1182.4L350.1 1180.8L351.4 1179.3L352.8 1178.1L354.1 1176.1L355.4 1175.2L356.8 1173.1L358.1 1171.9L359.5 1170.0L360.8 1169.0L362.1 1167.5L363.5 1166.2L364.8 1164.8L366.2 1162.9L367.6 1161.6L368.9 1160.3L370.3 1158.6L371.7 1157.0L373.0 1155.5L374.4 1154.0L375.8 1153.0L377.1 1151.2L378.5 1150.1L379.9 1148.6L381.3 1147.0L382.7 1145.1L384.1 1144.3L385.4 1142.8L386.8 1140.8L388.2 1139.8L389.6 1138.1L391.0 1136.9L392.4 1135.4L393.8 1134.0L395.2 1132.4L396.6 1130.8L398.0 1129.9L399.5 1128.5L400.9 1126.6L402.3 1125.2L403.7 1123.9L405.1 1122.5L406.5 1121.4L408.0 1119.5L409.4 1118.3L410.8 1117.0L412.3 1115.5L413.7 1114.0L415.1 1112.9L416.6 1111.1L418.0 1109.7L419.4 1108.5L420.9 1107.3L422.3 1105.6L423.8 1104.1L425.2 1103.3L426.7 1101.3L428.1 1100.3L429.6 1098.7L431.0 1097.5L432.5 1096.2L433.9 1094.4L435.4 1093.2L436.9 1091.8L438.3 1090.4L439.8 1088.9L441.3 1087.5L442.7 1086.6L444.2 1084.8L445.7 1083.6L447.1 1082.7L448.6 1081.3L450.1 1080.0L451.6 1078.1L453.1 1076.9L454.5 1075.5L456.0 1074.3L457.5 1073.0L459.0 1071.6L460.5 1070.5L462.0 1069.0L463.5 1067.7L465.0 1066.0L466.5 1065.1L468.0 1063.7L469.5 1062.1L471.0 1060.9L472.5 1060.0L474.0 1058.2L475.5 1056.9L477.0 1055.7L478.5 1054.4L480.0 1052.7L481.5 1051.8L483.0 1050.6L484.5 1049.4L486.1 1047.9L487.6 1046.2L489.1 1045.0L490.6 1043.8L492.1 1042.6L493.7 1041.0L495.2 1039.9L496.7 1038.5L498.2 1037.7L499.8 1036.4L501.3 1034.9L502.8 1033.5L504.4 1031.9L505.9 1031.2L507.4 1029.9L509.0 1028.6L510.5 1026.7L512.0 1025.9L513.6 1024.2L515.1 1023.5L516.7 1022.0L518.2 1021.0L519.8 1019.3L521.3 1018.2L522.9 1017.0L524.4 1015.4L526.0 1014.4L527.5 1013.2L529.1 1011.8L530.6 1010.4L532.2 1009.2L533.7 1008.3L535.3 1007.0L536.9 1005.6L538.4 1004.4L540.0 1003.3L541.5 1001.4L543.1 1000.1L544.7 999.3L546.2 998.0L547.8 996.4L549.4 995.4L551.0 994.2L552.5 992.8L554.1 991.5L555.7 990.2L557.3 989.3L558.8 987.7L560.4 986.9L562.0 985.8L563.6 984.4L565.1 982.9L566.7 981.7L568.3 980.6L569.9 979.3L571.5 978.2L573.1 977.0L574.7 975.6L576.2 974.3L577.8 973.5L579.4 972.2L581.0 970.5L582.6 969.7L584.2 968.1L585.8 967.2L587.4 965.8L589.0 965.0L590.6 963.3L592.2 962.6L593.8 961.0L595.4 959.7L597.0 958.7L598.6 957.2L600.2 956.5L601.8 955.0L603.4 953.8L605.0 952.4L606.6 951.3L608.2 950.3L609.8 948.9L611.5 947.9L613.1 947.0L614.7 945.5L616.3 944.1L617.9 943.4L619.5 942.1L621.1 940.9L622.8 939.4L624.4 938.3L626.0 937.2L627.6 936.0L629.2 934.7L630.9 933.5L632.5 932.3L634.1 931.5L635.7 929.9L637.4 928.9L639.0 927.8L640.6 926.4L642.2 925.3L643.9 924.1L645.5 923.4L647.1 921.9L648.8 921.0L650.4 919.6L652.0 918.7L653.7 917.5L655.3 916.0L656.9 915.0L658.6 914.0L660.2 912.8L661.8 911.7L663.5 910.1L665.1 909.6L666.8 908.4L668.4 906.8L670.1 905.8L671.7 905.0L673.3 903.5L675.0 902.4L676.6 901.4L678.3 899.9L679.9 899.3L681.6 897.5L683.2 896.4L684.9 895.5L686.5 894.3L688.2 893.3L689.8 892.0L691.5 891.2L693.2 890.0L694.8 889.0L696.5 887.5L698.1 886.3L699.8 885.5L701.4 884.1L703.1 883.2L704.8 881.8L706.4 881.0L708.1 880.1L709.7 879.0L711.4 877.9L713.1 876.5L714.7 875.4L716.4 874.4L718.1 873.3L719.7 871.8L721.4 870.9L723.1 869.6L724.7 868.7L726.4 867.6L728.1 866.4L729.8 865.7L731.4 864.6L733.1 862.9L734.8 862.1L736.5 861.0L738.1 860.1L739.8 859.1L741.5 857.9L743.2 856.2L744.8 855.8L746.5 854.2L748.2 853.2L749.9 852.1L751.6 851.3L753.2 849.8L754.9 848.7L756.6 848.2L758.3 846.4L760.0 845.5L761.7 844.5L763.4 843.3L765.0 842.3L766.7 841.1L768.4 840.5L770.1 839.0L771.8 838.2L773.5 836.9L775.2 835.6L776.9 834.7L778.6 834.0L780.3 832.7L781.9 831.4L783.6 830.9L785.3 829.6L787.0 828.6L788.7 827.7L790.4 826.6L792.1 825.5L793.8 824.1L795.5 823.0L797.2 822.0L798.9 821.2L800.6 819.9L802.3 818.8L804.0 817.9L805.7 816.8L807.4 816.0L809.1 814.7L810.8 813.5L812.5 812.8L814.2 811.6L815.9 810.3L817.6 809.3L819.3 808.6L821.0 807.5L822.7 805.8L824.4 805.3L826.1 803.9L827.8 802.9L829.5 801.7L831.2 800.9L832.9 799.5L834.6 798.5L836.3 797.4L838.0 796.6L839.7 795.2L841.4 794.3L843.1 793.6L844.8 792.3L846.5 791.5L848.2 790.3L849.9 788.8L851.6 788.0L853.3 787.0L855.0 786.2L856.7 785.1L858.4 783.5L860.1 783.0L861.8 781.8L863.4 780.6L865.1 779.8L866.8 778.4L868.5 777.5L870.2 776.5L871.9 775.5L873.6 774.2L875.3 773.2L877.0 772.3L878.7 770.8L880.4 770.1L882.1 769.1L883.8 767.5L885.5 767.0L887.2 765.4L888.9 764.3L890.6 763.5L892.3 762.8L894.0 761.7L895.7 760.4L897.4 759.5L899.1 758.0L900.8 757.2L902.5 755.8L904.2 754.8L905.9 754.2L907.6 753.2L909.3 752.0L911.0 750.7L912.7 750.0L914.4 748.4L916.1 747.6L917.8 746.6L919.5 745.1L921.2 744.6L922.9 743.1L924.6 742.5L926.3 741.5L928.0 740.3L929.7 739.3L931.4 737.8L933.1 736.7L934.8 735.8L936.4 734.7L938.1 734.0L939.8 732.9L941.5 731.8L943.2 730.7L944.9 729.7L946.6 728.4L948.3 727.6L950.0 726.6L951.7 725.2L953.4 724.5L955.1 723.3L956.8 722.2L958.5 721.0L960.2 720.2L961.9 718.8L963.6 717.6L965.4 716.5L967.1 715.9L968.8 714.7L970.5 713.4L972.2 712.4L973.9 711.6L975.6 710.6L977.3 709.1L979.0 708.4L980.7 707.3L982.4 706.4L984.1 704.9L985.8 703.8L987.5 703.2L989.2 701.9L990.9 700.6L992.6 699.8L994.3 699.0L996.0 697.6L997.7 696.5L999.4 695.8L1001.1 694.3L1002.8 693.2L1004.5 692.1L1006.2 691.6L1007.9 690.3L1009.6 689.1L1011.3 687.9L1013.1 687.0L1014.8 685.9L1016.5 685.4L1018.2 683.8L1019.9 683.2L1021.6 682.0L1023.3 680.6L1025.0 679.7L1026.7 678.7L1028.4 677.7L1030.1 676.6L1031.8 675.8L1033.5 674.3L1035.3 673.3L1037.0 672.6L1038.7 671.4L1040.4 670.6L1042.1 669.2L1043.8 668.5L1045.5 667.6L1047.2 666.2L1048.9 665.1L1050.6 664.4L1052.4 662.9L1054.1 662.1L1055.8 661.4L1057.5 659.9L1059.2 659.2L1060.9 657.9L1062.6 657.1L1064.3 656.0L1066.1 654.5L1067.8 654.1L1069.5 652.5L1071.2 652.0L1072.9 650.6L1074.6 649.3L1076.3 648.9L1078.1 647.6L1079.8 646.4L1081.5 645.7L1083.2 644.3L1084.9 643.3L1086.6 642.4L1088.4 641.4L1090.1 640.3L1091.8 639.5L1093.5 638.3L1095.2 637.3L1096.9 635.9L1098.7 635.4L1100.4 633.8L1102.1 633.2L1103.8 632.1L1105.5 630.8L1107.2 630.3L1109.0 629.2L1110.7 627.9L1112.4 627.2L1114.1 625.8L1115.8 624.8L1117.5 623.9L1119.3 622.6L1121.0 621.7L1122.7 620.8L1124.4 619.5L1126.1 618.6L1127.9 617.3L1129.6 616.9L1131.3 615.6L1133.0 614.2L1134.7 613.5L1136.5 612.1L1138.2 611.4L1139.9 610.6L1141.6 609.5L1143.3 608.2L1145.0 607.4L1146.8 606.6L1148.5 605.0L1150.2 604.5L1151.9 603.0L1153.6 602.2L1155.4 600.9L1157.1 600.1L1158.8 599.4L1160.5 598.0L1162.2 597.2L1164.0 595.9L1165.7 594.6L1167.4 593.9L1169.1 592.7L1170.8 592.2L1172.6 591.0L1174.3 590.0L1176.0 588.8L1177.7 588.1L1179.4 587.0L1181.1 585.6L1182.9 584.7L1184.6 583.5L1186.3 582.5L1188.0 581.2L1189.7 580.7L1191.5 579.4L1193.2 578.4L1194.9 577.3L1196.6 576.6L1198.3 575.2L1200.0 574.4L1201.8 573.1L1203.5 572.1L1205.2 571.4L1206.9 570.2L1208.6 569.1L1210.3 567.9L1212.1 566.8L1213.8 565.7L1215.5 565.2L1217.2 564.1L1218.9 563.1L1220.6 562.0L1222.4 560.6L1224.1 559.9L1225.8 558.5L1227.5 558.1L1229.2 557.0L1230.9 556.0L1232.6 554.6L1234.4 553.7L1236.1 552.3L1237.8 551.8L1239.5 550.6L1241.2 549.3L1242.9 548.4L1244.6 547.1L1246.3 546.4L1248.1 545.6L1249.8 544.1L1251.5 542.9L1253.2 541.9L1254.9 541.1L1256.6 540.3L1258.3 538.7L1260.0 538.0L1261.7 536.9L1263.5 536.0L1265.2 534.9L1266.9 533.9L1268.6 532.7L1270.3 531.7L1272.0 530.4L1273.7 529.6L1275.4 528.4L1277.1 527.4L1278.8 526.5L1280.5 525.6L1282.2 524.5L1283.9 523.1L1285.6 522.5L1287.3 521.2L1289.1 519.9L1290.8 519.2L1292.5 518.3L1294.2 517.0L1295.9 516.1L1297.6 515.1L1299.3 514.0L1301.0 512.4L1302.7 511.6L1304.4 510.4L1306.1 509.9L1307.8 508.6L1309.5 507.7L1311.2 506.4L1312.9 505.1L1314.6 504.0L1316.3 503.1L1318.0 502.2L1319.7 501.2L1321.4 500.3L1323.1 498.6L1324.8 497.8L1326.4 497.1L1328.1 495.7L1329.8 494.8L1331.5 493.8L1333.2 492.5L1334.9 491.6L1336.6 490.2L1338.3 489.4L1340.0 488.1L1341.7 487.3L1343.4 486.0L1345.1 485.1L1346.8 484.1L1348.5 483.1L1350.2 481.6L1351.9 481.0L1353.5 479.3L1355.2 478.5L1356.9 477.4L1358.6 476.7L1360.3 475.4L1362.0 474.4L1363.7 473.1L1365.4 471.9L1367.1 470.7L1368.8 469.7L1370.4 468.7L1372.1 467.9L1373.8 466.7L1375.5 465.8L1377.2 464.6L1378.9 463.4L1380.6 462.4L1382.3 461.3L1384.0 460.0L1385.6 459.1L1387.3 458.4L1389.0 457.1L1390.7 456.1L1392.4 455.1L1394.1 453.4L1395.8 452.8L1397.5 451.5L1399.1 450.8L1400.8 449.5L1402.5 448.2L1404.2 447.0L1405.9 445.8L1407.6 445.2L1409.3 444.3L1410.9 442.8L1412.6 441.7L1414.3 440.4L1416.0 439.8L1417.7 438.3L1419.4 437.5L1421.0 436.4L1422.7 435.1L1424.4 434.5L1426.1 433.1L1427.8 432.0L1429.5 431.2L1431.2 430.1L1432.8 428.7L1434.5 427.5L1436.2 426.8L1437.9 425.6L1439.6 424.6L1441.3 423.7L1442.9 422.5L1444.6 421.0L1446.3 420.1L1448.0 419.3L1449.7 417.8L1451.4 417.0L1453.0 415.8L1454.7 414.5L1456.4 413.7L1458.1 412.2L1459.8 411.2L1461.5 410.1L1463.1 409.0L1464.8 408.0L1466.5 406.9L1468.2 406.3L1469.9 404.8L1471.6 403.7L1473.2 402.9L1474.9 401.6L1476.6 400.5L1478.3 399.7L1480.0 398.1L1481.7 397.3L1483.3 395.9L1485.0 394.9L1486.7 393.8L1488.4 392.8L1490.1 391.7L1491.8 390.6L1493.4 390.0L1495.1 388.6L1496.8 387.4L1498.5 386.4L1500.2 385.6L1501.9 384.4L1503.5 383.1L1505.2 381.8L1506.9 380.7L1508.6 379.5L1510.3 379.1L1512.0 377.5L1513.6 376.8L1515.3 375.9L1517.0 374.5L1518.7 373.6L1520.4 372.5L1522.1 371.5L1523.8 370.3L1525.4 369.0L1527.1 367.8L1528.8 366.9L1530.5 365.6L1532.2 365.0L1533.9 363.3L1535.5 362.3L1537.2 361.4L1538.9 360.4L1540.6 359.3L1542.3 358.4L1544.0 356.9L1545.7 356.2L1547.3 354.8L1549.0 353.7L1550.7 353.0L1552.4 351.4L1554.1 350.9L1555.8 349.6L1557.5 348.5L1559.2 347.2L1560.8 346.4L1562.5 345.4L1564.2 344.2L1565.9 343.2L1567.6 342.0L1569.3 340.8L1571.0 339.8L1572.7 338.6L1574.3 337.7L1576.0 336.9L1577.7 335.7L1579.4 334.2L1581.1 333.3L1582.8 332.5L1584.5 331.5L1586.2 330.4L1587.9 328.7L1589.5 327.8L1591.2 327.0L1592.9 325.4L1594.6 324.8L1596.3 323.3L1598.0 322.3L1599.7 321.6L1601.4 320.7L1603.1 319.0L1604.8 317.9L1606.5 317.2L1608.1 316.1L1609.8 315.3L1611.5 314.2L1613.2 313.0L1614.9 311.9L1616.6 310.9L1618.3 309.9L1620.0 308.6" stroke="#F14040" stroke-width="8.6" stroke-linecap="round"/>
<path d="M270.0 1297.5L270.6 1295.7L271.2 1293.5L271.9 1291.8L272.6 1289.6L273.4 1288.4L274.2 1286.5L275.1 1284.1L275.9 1282.9L276.8 1280.6L277.7 1278.9L278.7 1277.4L279.6 1275.8L280.6 1274.0L281.6 1271.7L282.6 1270.3L283.6 1268.6L284.6 1266.8L285.7 1265.3L286.7 1263.2L287.8 1261.9L288.9 1259.7L290.0 1258.1L291.1 1256.4L292.2 1254.9L293.3 1253.4L294.4 1251.6L295.5 1250.2L296.6 1248.2L297.8 1246.9L298.9 1245.2L300.1 1243.3L301.2 1241.7L302.4 1240.5L303.6 1238.6L304.8 1237.2L305.9 1235.5L307.1 1233.9L308.3 1232.0L309.5 1230.4L310.7 1228.8L311.9 1227.6L313.1 1225.4L314.4 1224.4L315.6 1222.4L316.8 1220.9L318.1 1219.3L319.3 1217.7L320.5 1216.2L321.8 1214.3L323.0 1212.8L324.3 1211.6L325.5 1210.0L326.8 1208.0L328.1 1206.7L329.3 1205.1L330.6 1203.4L331.9 1202.2L333.2 1200.6L334.5 1198.8L335.7 1197.6L337.0 1196.2L338.3 1194.2L339.6 1192.8L340.9 1191.5L342.2 1189.9L343.5 1188.4L344.8 1186.9L346.2 1185.6L347.5 1183.9L348.8 1182.4L350.1 1180.8L351.4 1179.3L352.8 1178.1L354.1 1176.1L355.4 1175.2L356.8 1173.1L358.1 1171.9L359.5 1170.0L360.8 1169.0L362.1 1167.5L363.5 1166.2L364.8 1164.8L366.2 1162.9L367.6 1161.6L368.9 1160.3L370.3 1158.6L371.7 1157.0L373.0 1155.5L374.4 1154.0L375.8 1153.0L377.1 1151.2L378.5 1150.1L379.9 1148.6L381.3 1147.0L382.7 1145.1L384.1 1144.3L385.4 1142.8L386.8 1140.8L388.2 1139.8L389.6 1138.1L391.0 1136.9L392.4 1135.4L393.8 1134.0L395.2 1132.4L396.6 1130.8L398.0 1129.9L399.5 1128.5L400.9 1126.6L402.3 1125.2L403.7 1123.9L405.1 1122.5L406.5 1121.4L408.0 1119.5L409.4 1118.3L410.8 1117.0L412.3 1115.5L413.7 1114.0L415.1 1112.9L416.6 1111.1L418.0 1109.7L419.4 1108.5L420.9 1107.3L422.3 1105.6L423.8 1104.1L425.2 1103.3L426.7 1101.3L428.1 1100.3L429.6 1098.7L431.0 1097.5L432.5 1096.2L433.9 1094.4L435.4 1093.2L436.9 1091.8L438.3 1090.4L439.8 1088.9L441.3 1087.5L442.7 1086.6L444.2 1084.8L445.7 1083.6L447.1 1082.7L448.6 1081.3L450.1 1080.0L451.6 1078.1L453.1 1076.9L454.5 1075.5L456.0 1074.3L457.5 1073.0L459.0 1071.6L460.5 1070.5L462.0 1069.0L463.5 1067.7L465.0 1066.0L466.5 1065.1L468.0 1063.7L469.5 1062.1L471.0 1060.9L472.5 1060.0L474.0 1058.2L475.5 1056.9L477.0 1055.7L478.5 1054.4L480.0 1052.7L481.5 1051.8L483.0 1050.6L484.5 1049.4L486.1 1047.9L487.6 1046.2L489.1 1045.0L490.6 1043.8L492.1 1042.6L493.7 1041.0L495.2 1039.9L496.7 1038.5L498.2 1037.7L499.8 1036.4L501.3 1034.9L502.8 1033.5L504.4 1031.9L505.9 1031.2L507.4 1029.9L509.0 1028.6L510.5 1026.7L512.0 1025.9L513.6 1024.2L515.1 1023.5L516.7 1022.0L518.2 1021.0L519.8 1019.3L521.3 1018.2L522.9 1017.0L524.4 1015.4L526.0 1014.4L527.5 1013.2L529.1 1011.8L530.6 1010.4L532.2 1009.2L533.7 1008.3L535.3 1007.0L536.9 1005.6L538.4 1004.4L540.0 1003.3L541.5 1001.4L543.1 1000.1L544.7 999.3L546.2 998.0L547.8 996.4L549.4 995.4L551.0 994.2L552.5 992.8L554.1 991.5L555.7 990.2L557.3 989.3L558.8 987.7L560.4 986.9L562.0 985.8L563.6 984.4L565.1 982.9L566.7 981.7L568.3 980.6L569.9 979.3L571.5 978.2L573.1 977.0L574.7 975.6L576.2 974.3L577.8 973.5L579.4 972.2L581.0 970.5L582.6 969.7L584.2 968.1L585.8 967.2L587.4 965.8L589.0 965.0L590.6 963.3L592.2 962.6L593.8 961.0L595.4 959.7L597.0 958.7L598.6 957.2L600.2 956.5L601.8 955.0L603.4 953.8L605.0 952.4L606.6 951.3L608.2 950.3L609.8 948.9L611.5 947.9L613.1 947.0L614.7 945.5L616.3 944.1L617.9 943.4L619.5 942.1L621.1 940.9L622.8 939.4L624.4 938.3L626.0 937.2L627.6 936.0L629.2 934.7L630.9 933.5L632.5 932.3L634.1 931.5L635.7 929.9L637.4 928.9L639.0 927.8L640.6 926.4L642.2 925.3L643.9 924.1L645.5 923.4L647.1 921.9L648.8 921.0L650.4 919.6L652.0 918.7L653.7 917.5L655.3 916.0L656.9 915.0L658.6 914.0L660.2 912.8L661.8 911.7L663.5 910.1L665.1 909.6L666.8 908.4L668.4 906.8L670.1 905.8L671.7 905.0L673.3 903.5L675.0 902.4L676.6 901.4L678.3 899.9L679.9 899.3L681.6 897.5L683.2 896.4L684.9 895.5L686.5 894.3L688.2 893.3L689.8 892.0L691.5 891.2L693.2 890.0L694.8 889.0L696.5 887.5L698.1 886.3L699.8 885.5L701.4 884.1L703.1 883.2L704.8 881.8L706.4 881.0L708.1 880.1L709.7 879.0L711.4 877.9L713.1 876.5L714.7 875.4L716.4 874.4L718.1 873.3L719.7 871.8L721.4 870.9L723.1 869.6L724.7 868.7L726.4 867.6L728.1 866.4L729.8 865.7L731.4 864.6L733.1 862.9L734.8 862.1L736.5 861.0L738.1 860.1L739.8 859.1L741.5 857.9L743.2 856.2L744.8 855.8L746.5 854.2L748.2 853.2L749.9 852.1L751.6 851.3L753.2 849.8L754.9 848.7L756.6 848.2L758.3 846.4L760.0 845.5L761.7 844.5L763.4 843.3L765.0 842.3L766.7 841.1L768.4 840.5L770.1 839.0L771.8 838.2L773.5 836.9L775.2 835.6L776.9 834.7L778.6 834.0L780.3 832.7L781.9 831.4L783.6 830.9L785.3 829.6L787.0 828.6L788.7 827.7L790.4 826.6L792.1 825.5L793.8 824.1L795.5 823.0L797.2 822.0L798.9 821.2L800.6 819.9L802.3 818.8L804.0 817.9L805.7 816.8L807.4 816.0L809.1 814.7L810.8 813.5L812.5 812.8L814.2 811.6L815.9 810.3L817.6 809.3L819.3 808.6L821.0 807.5L822.7 805.8L824.4 805.3L826.1 803.9L827.8 802.9L829.5 801.7L831.2 800.9L832.9 799.5L834.6 798.5L836.3 797.4L838.0 796.6L839.7 795.2L841.4 794.3L843.1 793.6L844.8 792.3L846.5 791.5L848.2 790.3L849.9 788.8L851.6 788.0L853.3 787.0L855.0 786.2L856.7 785.1L858.4 783.5L860.1 783.0L861.8 781.8L863.4 780.6L865.1 779.8L866.8 778.4L868.5 777.5L870.2 776.5L871.9 775.5L873.6 774.2L875.3 773.2L877.0 772.3L878.7 770.8L880.4 770.1L882.1 769.1L883.8 767.5L885.5 767.0L887.2 765.4L888.9 764.3L890.6 763.5L892.3 762.8L894.0 761.7L895.7 760.4L897.4 759.5L899.1 758.0L900.8 757.2L902.5 755.8L904.2 754.8L905.9 754.2L907.6 753.2L909.3 752.0L911.0 750.7L912.7 750.0L914.4 748.4L916.1 747.6L917.8 746.6L919.5 745.1L921.2 744.6L922.9 743.1L924.6 742.5L926.3 741.5L928.0 740.3L929.7 739.3L931.4 737.8L933.1 736.7L934.8 735.8L936.4 734.7L938.1 734.0L939.8 732.9L941.5 731.8L943.2 730.7L944.9 729.7L946.6 728.4L948.3 727.6L950.0 726.6L951.7 725.2L953.4 724.5L955.1 723.3L956.8 722.2L958.5 721.0L960.2 720.2L961.9 718.8L963.6 717.6L965.4 716.5L967.1 715.9L968.8 714.7L970.5 713.4L972.2 712.4L973.9 711.6L975.6 710.6L977.3 709.1L979.0 708.4L980.7 707.3L982.4 706.4L984.1 704.9L985.8 703.8L987.5 703.2L989.2 701.9L990.9 700.6L992.6 699.8L994.3 699.0L996.0 697.6L997.7 696.5L999.4 695.8L1001.1 694.3L1002.8 693.2L1004.5 692.1L1006.2 691.6L1007.9 690.3L1009.6 689.1L1011.3 687.9L1013.1 687.0L1014.8 685.9L1016.5 685.4L1018.2 683.8L1019.9 683.2L1021.6 682.0L1023.3 680.6L1025.0 679.7L1026.7 678.7L1028.4 677.7L1030.1 676.6L1031.8 675.8L1033.5 674.3L1035.3 673.3L1037.0 672.6L1038.7 671.4L1040.4 670.6L1042.1 669.2L1043.8 668.5L1045.5 667.6L1047.2 666.2L1048.9 665.1L1050.6 664.4L1052.4 662.9L1054.1 662.1L1055.8 661.4L1057.5 659.9L1059.2 659.2L1060.9 657.9L1062.6 657.1L1064.3 656.0L1066.1 654.5L1067.8 654.1L1069.5 652.5L1071.2 652.0L1072.9 650.6L1074.6 649.3L1076.3 648.9L1078.1 647.6L1079.8 646.4L1081.5 645.7L1083.2 644.3L1084.9 643.3L1086.6 642.4L1088.4 641.4L1090.1 640.3L1091.8 639.5L1093.5 638.3L1095.2 637.3L1096.9 635.9L1098.7 635.4L1100.4 633.8L1102.1 633.2L1103.8 632.1L1105.5 630.8L1107.2 630.3L1109.0 629.2L1110.7 627.9L1112.4 627.2L1114.1 625.8L1115.8 624.8L1117.5 623.9L1119.3 622.6L1121.0 621.7L1122.7 620.8L1124.4 619.5L1126.1 618.6L1127.9 617.3L1129.6 616.9L1131.3 615.6L1133.0 614.2L1134.7 613.5L1136.5 612.1L1138.2 611.4L1139.9 610.6L1141.6 609.5L1143.3 608.2L1145.0 607.4L1146.8 606.6L1148.5 605.0L1150.2 604.5L1151.9 603.0L1153.6 602.2L1155.4 600.9L1157.1 600.1L1158.8 599.4L1160.5 598.0L1162.2 597.2L1164.0 595.9L1165.7 594.6L1167.4 593.9L1169.1 592.7L1170.8 592.2L1172.6 591.0L1174.3 590.0L1176.0 588.8L1177.7 588.1L1179.4 587.0L1181.1 585.6L1182.9 584.7L1184.6 583.5L1186.3 582.5L1188.0 581.2L1189.7 580.7L1191.5 579.4L1193.2 578.4L1194.9 577.3L1196.6 576.6L1198.3 575.2L1200.0 574.4L1201.8 573.1L1203.5 572.1L1205.2 571.4L1206.9 570.2L1208.6 569.1L1210.3 567.9L1212.1 566.8L1213.8 565.7L1215.5 565.2L1217.2 564.1L1218.9 563.1L1220.6 562.0L1222.4 560.6L1224.1 559.9L1225.8 558.5L1227.5 558.1L1229.2 557.0L1230.9 556.0L1232.6 554.6L1234.4 553.7L1236.1 552.3L1237.8 551.8L1239.5 550.6L1241.2 549.3L1242.9 548.4L1244.6 547.1L1246.3 546.4L1248.1 545.6L1249.8 544.1L1251.5 542.9L1253.2 541.9L1254.9 541.1L1256.6 540.3L1258.3 538.7L1260.0 538.0L1261.7 536.9L1263.5 536.0L1265.2 534.9L1266.9 533.9L1268.6 532.7L1270.3 531.7L1272.0 530.4L1273.7 529.6L1275.4 528.4L1277.1 527.4L1278.8 526.5L1280.5 525.6L1282.2 524.5L1283.9 523.1L1285.6 522.5L1287.3 521.2L1289.1 519.9L1290.8 519.2L1292.5 518.3L1294.2 517.0L1295.9 516.1L1297.6 515.1L1299.3 514.0L1301.0 512.4L1302.7 511.6L1304.4 510.4L1306.1 509.9L1307.8 508.6L1309.5 507.7L1311.2 506.4L1312.9 505.1L1314.6 504.0L1316.3 503.1L1318.0 502.2L1319.7 501.2L1321.4 500.3L1323.1 498.6L1324.8 497.8L1326.4 497.1L1328.1 495.7L1329.8 494.8L1331.5 493.8L1333.2 492.5L1334.9 491.6L1336.6 490.2L1338.3 489.4L1340.0 488.1L1341.7 487.3L1343.4 486.0L1345.1 485.1L1346.8 484.1L1348.5 483.1L1350.2 481.6L1351.9 481.0L1353.5 479.3L1355.2 478.5L1356.9 477.4L1358.6 476.7L1360.3 475.4L1362.0 474.4L1363.7 473.1L1365.4 471.9L1367.1 470.7L1368.8 469.7L1370.4 468.7L1372.1 467.9L1373.8 466.7L1375.5 465.8L1377.2 464.6L1378.9 463.4L1380.6 462.4L1382.3 461.3L1384.0 460.0L1385.6 459.1L1387.3 458.4L1389.0 457.1L1390.7 456.1L1392.4 455.1L1394.1 453.4L1395.8 452.8L1397.5 451.5L1399.1 450.8L1400.8 449.5L1402.5 448.2L1404.2 447.0L1405.9 445.8L1407.6 445.2L1409.3 444.3L1410.9 442.8L1412.6 441.7L1414.3 440.4L1416.0 439.8L1417.7 438.3L1419.4 437.5L1421.0 436.4L1422.7 435.1L1424.4 434.5L1426.1 433.1L1427.8 432.0L1429.5 431.2L1431.2 430.1L1432.8 428.7L1434.5 427.5L1436.2 426.8L1437.9 425.6L1439.6 424.6L1441.3 423.7L1442.9 422.5L1444.6 421.0L1446.3 420.1L1448.0 419.3L1449.7 417.8L1451.4 417.0L1453.0 415.8L1454.7 414.5L1456.4 413.7L1458.1 412.2L1459.8 411.2L1461.5 410.1L1463.1 409.0L1464.8 408.0L1466.5 406.9L1468.2 406.3L1469.9 404.8L1471.6 403.7L1473.2 402.9L1474.9 401.6L1476.6 400.5L1478.3 399.7L1480.0 398.1L1481.7 397.3L1483.3 395.9L1485.0 394.9L1486.7 393.8L1488.4 392.8L1490.1 391.7L1491.8 390.6L1493.4 390.0L1495.1 388.6L1496.8 387.4L1498.5 386.4L1500.2 385.6L1501.9 384.4L1503.5 383.1L1505.2 381.8L1506.9 380.7L1508.6 379.5L1510.3 379.1L1512.0 377.5L1513.6 376.8L1515.3 375.9L1517.0 374.5L1518.7 373.6L1520.4 372.5L1522.1 371.5L1523.8 370.3L1525.4 369.0L1527.1 367.8L1528.8 366.9L1530.5 365.6L1532.2 365.0L1533.9 363.3L1535.5 362.3L1537.2 361.4L1538.9 360.4L1540.6 359.3L1542.3 358.4L1544.0 356.9L1545.7 356.2L1547.3 354.8L1549.0 353.7L1550.7 353.0L1552.4 351.4L1554.1 350.9L1555.8 349.6L1557.5 348.5L1559.2 347.2L1560.8 346.4L1562.5 345.4L1564.2 344.2L1565.9 343.2L1567.6 342.0L1569.3 340.8L1571.0 339.8L1572.7 338.6L1574.3 337.7L1576.0 336.9L1577.7 335.7L1579.4 334.2L1581.1 333.3L1582.8 332.5L1584.5 331.5L1586.2 330.4L1587.9 328.7L1589.5 327.8L1591.2 327.0L1592.9 325.4L1594.6 324.8L1596.3 323.3L1598.0 322.3L1599.7 321.6L1601.4 320.7L1603.1 319.0L1604.8 317.9L1606.5 317.2L1608.1 316.1L1609.8 315.3L1611.5 314.2L1613.2 313.0L1614.9 311.9L1616.6 310.9L1618.3 309.9L1620.0 308.6" stroke="#F14040" stroke-width="11.1" stroke-linecap="round" shape-rendering="crispEdges"/>
<path d="M1620.9 308.4L1621.0 318.0L1621.0 800.0L1621.5 806.0L1621.5 1283.0L1622.0 1286.0L1622.0 1312.0" stroke="#F14040" stroke-width="9.8" stroke-linecap="round" shape-rendering="crispEdges"/>
<path d="M270.0 1297.5L271.2 1295.7L272.5 1294.6L273.8 1293.2L275.2 1291.7L276.6 1289.9L278.0 1288.5L279.4 1287.2L280.8 1285.7L282.3 1284.4L283.7 1282.5L285.2 1281.3L286.6 1279.7L288.1 1278.9L289.6 1277.2L291.0 1276.1L292.5 1274.4L294.0 1273.1L295.5 1271.6L297.0 1270.5L298.5 1269.5L300.0 1267.7L301.5 1266.4L303.0 1265.5L304.5 1263.6L306.0 1262.3L307.5 1261.4L309.1 1260.2L310.6 1258.3L312.1 1257.5L313.6 1256.3L315.2 1254.4L316.7 1253.5L318.2 1252.1L319.8 1250.8L321.3 1249.9L322.9 1247.9L324.4 1246.8L325.9 1245.8L327.5 1244.3L329.0 1243.0L330.6 1242.0L332.1 1240.9L333.7 1239.1L335.3 1238.0L336.8 1236.6L338.4 1235.4L339.9 1234.3L341.5 1233.2L343.1 1231.4L344.6 1230.6L346.2 1229.2L347.8 1227.7L349.3 1226.4L350.9 1225.2L352.5 1223.9L354.0 1223.2L355.6 1221.8L357.2 1220.2L358.8 1219.2L360.3 1218.0L361.9 1216.4L363.5 1215.7L365.1 1214.1L366.7 1212.7L368.3 1211.5L369.8 1210.5L371.4 1209.4L373.0 1208.4L374.6 1207.1L376.2 1205.6L377.8 1204.1L379.4 1203.4L381.0 1201.8L382.6 1200.5L384.2 1199.7L385.8 1198.0L387.4 1196.8L389.0 1195.9L390.6 1194.6L392.2 1193.7L393.8 1192.1L395.4 1190.7L397.0 1189.9L398.6 1188.3L400.2 1187.1L401.8 1186.1L403.4 1184.8L405.0 1184.0L406.6 1182.3L408.2 1181.5L409.8 1180.2L411.4 1178.6L413.0 1177.4L414.7 1176.8L416.3 1175.1L417.9 1173.8L419.5 1172.8L421.1 1171.8L422.7 1170.6L424.4 1169.5L426.0 1168.5L427.6 1166.8L429.2 1165.6L430.8 1164.8L432.5 1163.2L434.1 1162.4L435.7 1160.8L437.3 1159.7L439.0 1158.4L440.6 1157.7L442.2 1156.1L443.9 1154.9L445.5 1153.8L447.1 1152.7L448.7 1151.3L450.4 1150.3L452.0 1149.4L453.6 1148.3L455.3 1146.8L456.9 1145.9L458.5 1144.9L460.2 1143.5L461.8 1142.2L463.5 1140.8L465.1 1140.2L466.7 1139.0L468.4 1137.3L470.0 1136.2L471.7 1135.5L473.3 1134.2L474.9 1132.9L476.6 1131.6L478.2 1130.4L479.9 1129.6L481.5 1128.5L483.2 1127.5L484.8 1126.2L486.5 1124.8L488.1 1124.0L489.8 1122.3L491.4 1121.6L493.1 1120.5L494.7 1118.9L496.4 1118.0L498.0 1116.7L499.7 1115.6L501.3 1114.4L503.0 1113.3L504.6 1112.1L506.3 1111.3L507.9 1109.7L509.6 1109.0L511.2 1107.6L512.9 1106.7L514.6 1105.4L516.2 1104.3L517.9 1103.3L519.5 1101.9L521.2 1100.7L522.9 1100.1L524.5 1098.7L526.2 1097.4L527.9 1096.7L529.5 1095.6L531.2 1094.5L532.8 1093.2L534.5 1091.7L536.2 1091.1L537.8 1089.8L539.5 1088.9L541.2 1087.5L542.9 1086.0L544.5 1085.6L546.2 1083.9L547.9 1083.2L549.5 1081.8L551.2 1080.6L552.9 1079.4L554.6 1078.7L556.2 1077.3L557.9 1076.4L559.6 1075.5L561.2 1073.9L562.9 1072.7L564.6 1071.8L566.3 1070.9L568.0 1070.0L569.6 1068.4L571.3 1067.5L573.0 1066.2L574.7 1065.1L576.4 1064.0L578.0 1063.3L579.7 1061.7L581.4 1061.1L583.1 1060.0L584.8 1058.8L586.4 1057.4L588.1 1056.3L589.8 1055.7L591.5 1054.0L593.2 1053.2L594.9 1052.0L596.6 1050.8L598.3 1050.3L599.9 1048.7L601.6 1047.9L603.3 1047.0L605.0 1045.7L606.7 1044.3L608.4 1043.6L610.1 1042.2L611.8 1041.6L613.5 1039.9L615.2 1039.2L616.9 1038.1L618.6 1037.0L620.3 1035.7L622.0 1034.6L623.7 1033.9L625.4 1033.0L627.1 1031.9L628.8 1030.7L630.5 1029.3L632.2 1028.6L633.9 1027.2L635.6 1026.1L637.3 1025.4L639.0 1024.3L640.7 1022.9L642.4 1021.8L644.1 1020.7L645.8 1019.9L647.5 1019.1L649.2 1017.7L651.0 1016.8L652.7 1015.5L654.4 1014.5L656.1 1013.7L657.8 1012.5L659.5 1011.8L661.2 1010.7L662.9 1009.3L664.7 1008.0L666.4 1007.4L668.1 1006.5L669.8 1005.5L671.5 1003.8L673.3 1002.9L675.0 1001.9L676.7 1000.9L678.4 999.9L680.1 998.7L681.9 997.9L683.6 997.2L685.3 995.7L687.1 995.1L688.8 993.6L690.5 992.5L692.2 991.8L694.0 991.1L695.7 989.6L697.4 989.1L699.2 987.4L700.9 987.0L702.6 985.8L704.4 984.9L706.1 983.7L707.9 982.5L709.6 981.9L711.3 980.6L713.1 979.9L714.8 979.0L716.6 978.0L718.3 976.7L720.1 975.5L721.8 974.9L723.6 973.4L725.3 973.0L727.1 971.8L728.8 970.5L730.6 969.8L732.3 968.8L734.1 967.7L735.8 967.0L737.6 965.6L739.4 964.8L741.1 964.0L742.9 962.8L744.6 961.9L746.4 961.1L748.2 959.8L749.9 959.0L751.7 957.9L753.5 957.5L755.3 956.3L757.0 955.2L758.8 954.7L760.6 953.3L762.4 952.8L764.1 951.6L765.9 950.7L767.7 949.6L769.5 948.7L771.3 947.8L773.1 946.9L774.8 946.1L776.6 944.8L778.4 944.2L780.2 943.2L782.0 942.5L783.8 941.8L785.6 940.8L787.4 940.1L789.2 938.8L791.0 937.7L792.8 937.3L794.6 936.4L796.4 935.6L798.2 934.2L800.0 933.5" stroke="#1A6FDF" stroke-width="8.5" stroke-linecap="round"/>
<path d="M270.0 1297.5L271.2 1295.7L272.5 1294.6L273.8 1293.2L275.2 1291.7L276.6 1289.9L278.0 1288.5L279.4 1287.2L280.8 1285.7L282.3 1284.4L283.7 1282.5L285.2 1281.3L286.6 1279.7L288.1 1278.9L289.6 1277.2L291.0 1276.1L292.5 1274.4L294.0 1273.1L295.5 1271.6L297.0 1270.5L298.5 1269.5L300.0 1267.7L301.5 1266.4L303.0 1265.5L304.5 1263.6L306.0 1262.3L307.5 1261.4L309.1 1260.2L310.6 1258.3L312.1 1257.5L313.6 1256.3L315.2 1254.4L316.7 1253.5L318.2 1252.1L319.8 1250.8L321.3 1249.9L322.9 1247.9L324.4 1246.8L325.9 1245.8L327.5 1244.3L329.0 1243.0L330.6 1242.0L332.1 1240.9L333.7 1239.1L335.3 1238.0L336.8 1236.6L338.4 1235.4L339.9 1234.3L341.5 1233.2L343.1 1231.4L344.6 1230.6L346.2 1229.2L347.8 1227.7L349.3 1226.4L350.9 1225.2L352.5 1223.9L354.0 1223.2L355.6 1221.8L357.2 1220.2L358.8 1219.2L360.3 1218.0L361.9 1216.4L363.5 1215.7L365.1 1214.1L366.7 1212.7L368.3 1211.5L369.8 1210.5L371.4 1209.4L373.0 1208.4L374.6 1207.1L376.2 1205.6L377.8 1204.1L379.4 1203.4L381.0 1201.8L382.6 1200.5L384.2 1199.7L385.8 1198.0L387.4 1196.8L389.0 1195.9L390.6 1194.6L392.2 1193.7L393.8 1192.1L395.4 1190.7L397.0 1189.9L398.6 1188.3L400.2 1187.1L401.8 1186.1L403.4 1184.8L405.0 1184.0L406.6 1182.3L408.2 1181.5L409.8 1180.2L411.4 1178.6L413.0 1177.4L414.7 1176.8L416.3 1175.1L417.9 1173.8L419.5 1172.8L421.1 1171.8L422.7 1170.6L424.4 1169.5L426.0 1168.5L427.6 1166.8L429.2 1165.6L430.8 1164.8L432.5 1163.2L434.1 1162.4L435.7 1160.8L437.3 1159.7L439.0 1158.4L440.6 1157.7L442.2 1156.1L443.9 1154.9L445.5 1153.8L447.1 1152.7L448.7 1151.3L450.4 1150.3L452.0 1149.4L453.6 1148.3L455.3 1146.8L456.9 1145.9L458.5 1144.9L460.2 1143.5L461.8 1142.2L463.5 1140.8L465.1 1140.2L466.7 1139.0L468.4 1137.3L470.0 1136.2L471.7 1135.5L473.3 1134.2L474.9 1132.9L476.6 1131.6L478.2 1130.4L479.9 1129.6L481.5 1128.5L483.2 1127.5L484.8 1126.2L486.5 1124.8L488.1 1124.0L489.8 1122.3L491.4 1121.6L493.1 1120.5L494.7 1118.9L496.4 1118.0L498.0 1116.7L499.7 1115.6L501.3 1114.4L503.0 1113.3L504.6 1112.1L506.3 1111.3L507.9 1109.7L509.6 1109.0L511.2 1107.6L512.9 1106.7L514.6 1105.4L516.2 1104.3L517.9 1103.3L519.5 1101.9L521.2 1100.7L522.9 1100.1L524.5 1098.7L526.2 1097.4L527.9 1096.7L529.5 1095.6L531.2 1094.5L532.8 1093.2L534.5 1091.7L536.2 1091.1L537.8 1089.8L539.5 1088.9L541.2 1087.5L542.9 1086.0L544.5 1085.6L546.2 1083.9L547.9 1083.2L549.5 1081.8L551.2 1080.6L552.9 1079.4L554.6 1078.7L556.2 1077.3L557.9 1076.4L559.6 1075.5L561.2 1073.9L562.9 1072.7L564.6 1071.8L566.3 1070.9L568.0 1070.0L569.6 1068.4L571.3 1067.5L573.0 1066.2L574.7 1065.1L576.4 1064.0L578.0 1063.3L579.7 1061.7L581.4 1061.1L583.1 1060.0L584.8 1058.8L586.4 1057.4L588.1 1056.3L589.8 1055.7L591.5 1054.0L593.2 1053.2L594.9 1052.0L596.6 1050.8L598.3 1050.3L599.9 1048.7L601.6 1047.9L603.3 1047.0L605.0 1045.7L606.7 1044.3L608.4 1043.6L610.1 1042.2L611.8 1041.6L613.5 1039.9L615.2 1039.2L616.9 1038.1L618.6 1037.0L620.3 1035.7L622.0 1034.6L623.7 1033.9L625.4 1033.0L627.1 1031.9L628.8 1030.7L630.5 1029.3L632.2 1028.6L633.9 1027.2L635.6 1026.1L637.3 1025.4L639.0 1024.3L640.7 1022.9L642.4 1021.8L644.1 1020.7L645.8 1019.9L647.5 1019.1L649.2 1017.7L651.0 1016.8L652.7 1015.5L654.4 1014.5L656.1 1013.7L657.8 1012.5L659.5 1011.8L661.2 1010.7L662.9 1009.3L664.7 1008.0L666.4 1007.4L668.1 1006.5L669.8 1005.5L671.5 1003.8L673.3 1002.9L675.0 1001.9L676.7 1000.9L678.4 999.9L680.1 998.7L681.9 997.9L683.6 997.2L685.3 995.7L687.1 995.1L688.8 993.6L690.5 992.5L692.2 991.8L694.0 991.1L695.7 989.6L697.4 989.1L699.2 987.4L700.9 987.0L702.6 985.8L704.4 984.9L706.1 983.7L707.9 982.5L709.6 981.9L711.3 980.6L713.1 979.9L714.8 979.0L716.6 978.0L718.3 976.7L720.1 975.5L721.8 974.9L723.6 973.4L725.3 973.0L727.1 971.8L728.8 970.5L730.6 969.8L732.3 968.8L734.1 967.7L735.8 967.0L737.6 965.6L739.4 964.8L741.1 964.0L742.9 962.8L744.6 961.9L746.4 961.1L748.2 959.8L749.9 959.0L751.7 957.9L753.5 957.5L755.3 956.3L757.0 955.2L758.8 954.7L760.6 953.3L762.4 952.8L764.1 951.6L765.9 950.7L767.7 949.6L769.5 948.7L771.3 947.8L773.1 946.9L774.8 946.1L776.6 944.8L778.4 944.2L780.2 943.2L782.0 942.5L783.8 941.8L785.6 940.8L787.4 940.1L789.2 938.8L791.0 937.7L792.8 937.3L794.6 936.4L796.4 935.6L798.2 934.2L800.0 933.5" stroke="#1A6FDF" stroke-width="11.0" stroke-linecap="round" shape-rendering="crispEdges"/>
<path d="M800.0 933.4L800.0 1161.0L800.9 1165.0L800.9 1312.0" stroke="#1A6FDF" stroke-width="9.8" stroke-linecap="round" shape-rendering="crispEdges"/>
<path d="M266.0 1295.0L288.5 1295.2L290.4 1294.5L292.2 1293.2L294.1 1292.6L296.0 1292.3L297.8 1291.3L299.7 1290.4L301.6 1289.8L303.4 1288.9L305.3 1288.5L307.2 1287.5L309.1 1286.8L310.9 1285.8L312.8 1285.5L314.7 1284.5L316.6 1284.2L318.4 1283.1L320.3 1282.6L322.2 1281.9L324.1 1281.2L325.9 1280.1L327.8 1279.4L329.7 1278.8L331.6 1278.2L333.5 1277.3L335.3 1276.8L337.2 1276.1L339.1 1275.1L341.0 1274.5L342.9 1274.1L344.7 1272.9L346.6 1272.6L348.5 1271.5L350.4 1271.2L352.3 1270.5L354.2 1269.6L356.1 1269.3L357.9 1268.3L359.8 1267.4L361.7 1266.8L363.6 1266.4L365.5 1265.5L367.4 1264.6L369.3 1264.1L371.2 1263.8L373.1 1262.7L374.9 1262.1L376.8 1261.6L378.7 1261.1L380.6 1259.9L382.5 1259.3L384.4 1258.6L386.3 1257.9L388.2 1257.7L390.1 1256.6L392.0 1255.9L393.9 1255.4L395.8 1254.7L397.7 1254.3L399.6 1253.5L401.5 1252.9L403.4 1251.9L405.3 1251.5L407.2 1250.6L409.1 1250.0L411.0 1249.5L412.9 1248.8L414.8 1248.4L416.7 1247.3L418.6 1246.8L420.5 1246.1L422.4 1245.6L424.3 1245.0L426.2 1244.4L428.1 1243.5L430.0 1243.0L431.9 1242.4L433.8 1241.6L435.7 1241.2L437.6 1240.4L439.5 1239.6L441.4 1239.5L443.4 1238.4L445.3 1238.1L447.2 1237.4L449.1 1236.5L451.0 1236.1L452.9 1235.5L454.8 1234.9L456.7 1234.5L458.6 1233.9L460.5 1233.1L462.5 1232.3L464.4 1231.7L466.3 1231.3L468.2 1230.6L470.1 1229.7L472.0 1229.4L473.9 1229.0L475.8 1227.9L477.8 1227.4L479.7 1226.6L481.6 1226.5L483.5 1225.6L485.4 1224.9L487.3 1224.3L489.3 1223.7L491.2 1223.0L493.1 1222.8L495.0 1222.3L496.9 1221.7L498.8 1220.7L500.8 1220.3L502.7 1219.8L504.6 1219.2L506.5 1218.3L508.4 1217.8L510.4 1217.5L512.3 1216.8L514.2 1215.9L516.1 1215.4L518.1 1215.2L520.0 1214.3L521.9 1213.6L523.8 1213.1L525.7 1212.5L527.7 1212.2L529.6 1211.2L531.5 1211.1L533.4 1210.2L535.4 1209.7L537.3 1208.9L539.2 1208.4L541.1 1208.2L543.1 1207.4L545.0 1206.6L546.9 1206.3L548.8 1205.7L550.8 1205.3L552.7 1204.5L554.6 1204.2L556.5 1203.2L558.5 1202.8L560.4 1202.2L562.3 1201.5L564.3 1201.2L566.2 1200.3L568.1 1200.0L570.0 1199.4L572.0 1199.0L573.9 1198.1L575.8 1197.5L577.8 1197.0L579.7 1196.9L581.6 1196.0L583.6 1195.7L585.5 1195.1L587.4 1194.3L589.3 1193.7L591.3 1193.3L593.2 1192.9L595.1 1192.3L597.1 1191.5L599.0 1191.0L600.9 1190.3L602.9 1189.9L604.8 1189.1L606.7 1188.8L608.7 1188.0L610.6 1187.7L612.5 1187.2L614.5 1186.7L616.4 1186.0L618.3 1185.6L620.3 1184.9L622.2 1184.2L624.1 1183.7L626.1 1183.2L628.0 1182.7L630.0 1182.2L631.9 1181.6L633.8 1181.4L635.8 1180.6L637.7 1180.0L639.6 1179.8L641.6 1178.8L643.5 1178.3L645.4 1177.8L647.4 1177.4L649.3 1176.8L651.3 1176.3L653.2 1175.6L655.1 1175.0L657.1 1174.4L659.0 1173.9L660.9 1173.4L662.9 1172.7L664.8 1172.6L666.8 1171.6L668.7 1171.1L670.6 1170.6L672.6 1170.1L674.5 1169.6L676.4 1168.9L678.4 1168.6L680.3 1168.2L682.3 1167.4L684.2 1167.2L686.1 1166.3L688.1 1166.2L690.0 1165.4L692.0 1165.0L693.9 1164.4L695.8 1164.0L697.8 1163.2L699.7 1162.7L701.6 1162.0L703.6 1161.9L705.5 1161.0L707.5 1160.4L709.4 1160.3L711.3 1159.9L713.3 1158.8L715.2 1158.4L717.2 1157.8L719.1 1157.4L721.0 1157.0L723.0 1156.6L724.9 1155.9L726.9 1155.5L728.8 1154.8L730.7 1154.3L732.7 1153.8L734.6 1153.1L736.6 1152.6L738.5 1152.5L740.4 1151.4L742.4 1151.2L744.3 1150.4L746.3 1150.1L748.2 1149.4L750.1 1148.7L752.1 1148.5L754.0 1147.9L756.0 1147.5L757.9 1146.8L759.8 1146.7L761.8 1145.8L763.7 1145.4L765.7 1144.9L767.6 1144.5L769.5 1143.8L771.5 1143.0L773.4 1142.8L775.4 1142.3L777.3 1141.8L779.2 1141.1L781.2 1140.7L783.1 1140.3L785.1 1139.5L787.0 1139.0L788.9 1138.7L790.9 1138.2L792.8 1137.7L794.8 1137.1L796.7 1136.2L798.6 1135.9L800.6 1135.3L802.5 1134.7L804.5 1134.1L806.4 1133.7L808.3 1133.2L810.3 1132.4L812.2 1132.0L814.2 1131.4L816.1 1131.0L818.0 1130.7L820.0 1130.0L821.9 1129.3L823.8 1128.8L825.8 1128.6L827.7 1127.6L829.7 1127.2L831.6 1126.8L833.5 1126.3L835.5 1126.0L837.4 1125.1L839.3 1124.5L841.3 1124.3L843.2 1123.9L845.2 1122.8L847.1 1122.8L849.0 1122.1L851.0 1121.3L852.9 1120.7L854.8 1120.1L856.8 1119.9L858.7 1119.2L860.7 1118.8L862.6 1118.0L864.5 1118.0L866.5 1117.2L868.4 1116.8L870.3 1116.0L872.3 1115.8L874.2 1115.0L876.1 1114.4L878.1 1114.1L880.0 1113.3L881.9 1113.1L883.9 1112.2L885.8 1111.5L887.7 1111.2L889.7 1110.8L891.6 1109.9L893.5 1109.4L895.5 1109.1L897.4 1108.8L899.3 1107.7L901.3 1107.7L903.2 1106.8L905.1 1106.5L907.1 1105.8L909.0 1105.2" stroke="#37AD6B" stroke-width="8.1" stroke-linecap="round"/>
<path d="M266.0 1295.0L288.5 1295.2L290.4 1294.5L292.2 1293.2L294.1 1292.6L296.0 1292.3L297.8 1291.3L299.7 1290.4L301.6 1289.8L303.4 1288.9L305.3 1288.5L307.2 1287.5L309.1 1286.8L310.9 1285.8L312.8 1285.5L314.7 1284.5L316.6 1284.2L318.4 1283.1L320.3 1282.6L322.2 1281.9L324.1 1281.2L325.9 1280.1L327.8 1279.4L329.7 1278.8L331.6 1278.2L333.5 1277.3L335.3 1276.8L337.2 1276.1L339.1 1275.1L341.0 1274.5L342.9 1274.1L344.7 1272.9L346.6 1272.6L348.5 1271.5L350.4 1271.2L352.3 1270.5L354.2 1269.6L356.1 1269.3L357.9 1268.3L359.8 1267.4L361.7 1266.8L363.6 1266.4L365.5 1265.5L367.4 1264.6L369.3 1264.1L371.2 1263.8L373.1 1262.7L374.9 1262.1L376.8 1261.6L378.7 1261.1L380.6 1259.9L382.5 1259.3L384.4 1258.6L386.3 1257.9L388.2 1257.7L390.1 1256.6L392.0 1255.9L393.9 1255.4L395.8 1254.7L397.7 1254.3L399.6 1253.5L401.5 1252.9L403.4 1251.9L405.3 1251.5L407.2 1250.6L409.1 1250.0L411.0 1249.5L412.9 1248.8L414.8 1248.4L416.7 1247.3L418.6 1246.8L420.5 1246.1L422.4 1245.6L424.3 1245.0L426.2 1244.4L428.1 1243.5L430.0 1243.0L431.9 1242.4L433.8 1241.6L435.7 1241.2L437.6 1240.4L439.5 1239.6L441.4 1239.5L443.4 1238.4L445.3 1238.1L447.2 1237.4L449.1 1236.5L451.0 1236.1L452.9 1235.5L454.8 1234.9L456.7 1234.5L458.6 1233.9L460.5 1233.1L462.5 1232.3L464.4 1231.7L466.3 1231.3L468.2 1230.6L470.1 1229.7L472.0 1229.4L473.9 1229.0L475.8 1227.9L477.8 1227.4L479.7 1226.6L481.6 1226.5L483.5 1225.6L485.4 1224.9L487.3 1224.3L489.3 1223.7L491.2 1223.0L493.1 1222.8L495.0 1222.3L496.9 1221.7L498.8 1220.7L500.8 1220.3L502.7 1219.8L504.6 1219.2L506.5 1218.3L508.4 1217.8L510.4 1217.5L512.3 1216.8L514.2 1215.9L516.1 1215.4L518.1 1215.2L520.0 1214.3L521.9 1213.6L523.8 1213.1L525.7 1212.5L527.7 1212.2L529.6 1211.2L531.5 1211.1L533.4 1210.2L535.4 1209.7L537.3 1208.9L539.2 1208.4L541.1 1208.2L543.1 1207.4L545.0 1206.6L546.9 1206.3L548.8 1205.7L550.8 1205.3L552.7 1204.5L554.6 1204.2L556.5 1203.2L558.5 1202.8L560.4 1202.2L562.3 1201.5L564.3 1201.2L566.2 1200.3L568.1 1200.0L570.0 1199.4L572.0 1199.0L573.9 1198.1L575.8 1197.5L577.8 1197.0L579.7 1196.9L581.6 1196.0L583.6 1195.7L585.5 1195.1L587.4 1194.3L589.3 1193.7L591.3 1193.3L593.2 1192.9L595.1 1192.3L597.1 1191.5L599.0 1191.0L600.9 1190.3L602.9 1189.9L604.8 1189.1L606.7 1188.8L608.7 1188.0L610.6 1187.7L612.5 1187.2L614.5 1186.7L616.4 1186.0L618.3 1185.6L620.3 1184.9L622.2 1184.2L624.1 1183.7L626.1 1183.2L628.0 1182.7L630.0 1182.2L631.9 1181.6L633.8 1181.4L635.8 1180.6L637.7 1180.0L639.6 1179.8L641.6 1178.8L643.5 1178.3L645.4 1177.8L647.4 1177.4L649.3 1176.8L651.3 1176.3L653.2 1175.6L655.1 1175.0L657.1 1174.4L659.0 1173.9L660.9 1173.4L662.9 1172.7L664.8 1172.6L666.8 1171.6L668.7 1171.1L670.6 1170.6L672.6 1170.1L674.5 1169.6L676.4 1168.9L678.4 1168.6L680.3 1168.2L682.3 1167.4L684.2 1167.2L686.1 1166.3L688.1 1166.2L690.0 1165.4L692.0 1165.0L693.9 1164.4L695.8 1164.0L697.8 1163.2L699.7 1162.7L701.6 1162.0L703.6 1161.9L705.5 1161.0L707.5 1160.4L709.4 1160.3L711.3 1159.9L713.3 1158.8L715.2 1158.4L717.2 1157.8L719.1 1157.4L721.0 1157.0L723.0 1156.6L724.9 1155.9L726.9 1155.5L728.8 1154.8L730.7 1154.3L732.7 1153.8L734.6 1153.1L736.6 1152.6L738.5 1152.5L740.4 1151.4L742.4 1151.2L744.3 1150.4L746.3 1150.1L748.2 1149.4L750.1 1148.7L752.1 1148.5L754.0 1147.9L756.0 1147.5L757.9 1146.8L759.8 1146.7L761.8 1145.8L763.7 1145.4L765.7 1144.9L767.6 1144.5L769.5 1143.8L771.5 1143.0L773.4 1142.8L775.4 1142.3L777.3 1141.8L779.2 1141.1L781.2 1140.7L783.1 1140.3L785.1 1139.5L787.0 1139.0L788.9 1138.7L790.9 1138.2L792.8 1137.7L794.8 1137.1L796.7 1136.2L798.6 1135.9L800.6 1135.3L802.5 1134.7L804.5 1134.1L806.4 1133.7L808.3 1133.2L810.3 1132.4L812.2 1132.0L814.2 1131.4L816.1 1131.0L818.0 1130.7L820.0 1130.0L821.9 1129.3L823.8 1128.8L825.8 1128.6L827.7 1127.6L829.7 1127.2L831.6 1126.8L833.5 1126.3L835.5 1126.0L837.4 1125.1L839.3 1124.5L841.3 1124.3L843.2 1123.9L845.2 1122.8L847.1 1122.8L849.0 1122.1L851.0 1121.3L852.9 1120.7L854.8 1120.1L856.8 1119.9L858.7 1119.2L860.7 1118.8L862.6 1118.0L864.5 1118.0L866.5 1117.2L868.4 1116.8L870.3 1116.0L872.3 1115.8L874.2 1115.0L876.1 1114.4L878.1 1114.1L880.0 1113.3L881.9 1113.1L883.9 1112.2L885.8 1111.5L887.7 1111.2L889.7 1110.8L891.6 1109.9L893.5 1109.4L895.5 1109.1L897.4 1108.8L899.3 1107.7L901.3 1107.7L903.2 1106.8L905.1 1106.5L907.1 1105.8L909.0 1105.2" stroke="#37AD6B" stroke-width="10.6" stroke-linecap="round" shape-rendering="crispEdges"/>
<path d="M909.0 1105.0L909.0 1187.0L909.6 1191.0L909.6 1312.0" stroke="#37AD6B" stroke-width="9.7" stroke-linecap="round" shape-rendering="crispEdges"/>
</g>
<g filter="url(#crisp)">
<text transform="translate(197.29 1316.80) scale(1.0000 1.0780)" font-size="63.50">0</text>
<text transform="translate(197.23 1111.05) scale(1.0000 1.0780)" font-size="63.50">2</text>
<text transform="translate(195.03 905.30) scale(1.0000 1.0780)" font-size="63.50">4</text>
<text transform="translate(196.98 699.55) scale(1.0000 1.0780)" font-size="63.50">6</text>
<text transform="translate(196.64 493.80) scale(1.0000 1.0780)" font-size="63.50">8</text>
<text transform="translate(161.97 288.05) scale(1.0000 1.0780)" font-size="63.50">10</text>
<text transform="translate(161.91 82.30) scale(1.0000 1.0780)" font-size="63.50">12</text>
<text transform="translate(270.30 1386.50) scale(1.0000 1.0780)" font-size="63.50" text-anchor="middle">0.0</text>
<text transform="translate(460.11 1386.50) scale(1.0000 1.0780)" font-size="63.50" text-anchor="middle">0.1</text>
<text transform="translate(649.92 1386.50) scale(1.0000 1.0780)" font-size="63.50" text-anchor="middle">0.2</text>
<text transform="translate(839.74 1386.50) scale(1.0000 1.0780)" font-size="63.50" text-anchor="middle">0.3</text>
<text transform="translate(1029.55 1386.50) scale(1.0000 1.0780)" font-size="63.50" text-anchor="middle">0.4</text>
<text transform="translate(1219.36 1386.50) scale(1.0000 1.0780)" font-size="63.50" text-anchor="middle">0.5</text>
<text transform="translate(1409.17 1386.50) scale(1.0000 1.0780)" font-size="63.50" text-anchor="middle">0.6</text>
<text transform="translate(1598.99 1386.50) scale(1.0000 1.0780)" font-size="63.50" text-anchor="middle">0.7</text>
<text transform="translate(1788.80 1386.50) scale(1.0000 1.0780)" font-size="63.50" text-anchor="middle">0.8</text>
<text transform="translate(830.65 1468.00) scale(1.0000 1.0500)" font-size="85.20">Strain (%)</text>
<text transform="translate(91.20 916.50) rotate(-90) scale(1.0000 1.0260)" font-size="86.80">Stress (MPa)</text>
<text transform="translate(512.04 141.10) scale(1 1.0790)" font-size="74.20" dy="0 0 3 -3">PU_3</text>
<text transform="translate(512.04 234.20) scale(1 1.0790)" font-size="74.20" dy="0 0 3 -3">PU_3T2</text>
<text transform="translate(512.04 328.00) scale(1 1.0790)" font-size="74.20" dy="0 0 3 -3">PU_31</text>
<text transform="translate(512.04 421.10) scale(1 1.0790)" font-size="74.20" dy="0 0 3 -3">PU_31T2</text>
</g>
<g fill="#fff" shape-rendering="crispEdges"><rect x="166" y="281" width="11" height="7"/><rect x="186" y="281" width="10" height="7"/><rect x="166" y="75" width="11" height="7"/><rect x="186" y="75" width="10" height="7"/><rect x="473" y="1380" width="11" height="7"/><rect x="493" y="1380" width="10" height="7"/><rect x="702" y="320" width="13" height="8"/><rect x="725" y="320" width="12" height="8"/><rect x="702" y="413" width="13" height="8"/><rect x="725" y="413" width="12" height="8"/></g>
<g><rect x="323" y="110" width="168" height="10" fill="#515151" shape-rendering="crispEdges"/><rect x="323" y="203" width="168" height="10" fill="#F14040" shape-rendering="crispEdges"/><rect x="323" y="296" width="168" height="10" fill="#1A6FDF" shape-rendering="crispEdges"/><rect x="323" y="390" width="168" height="9" fill="#37AD6B" shape-rendering="crispEdges"/></g>
<g fill="#000" shape-rendering="crispEdges"><rect x="614" y="149" width="44" height="7"/><rect x="614" y="242" width="44" height="7"/><rect x="614" y="336" width="44" height="7"/><rect x="614" y="429" width="44" height="7"/></g>
</svg>
</body></html>
